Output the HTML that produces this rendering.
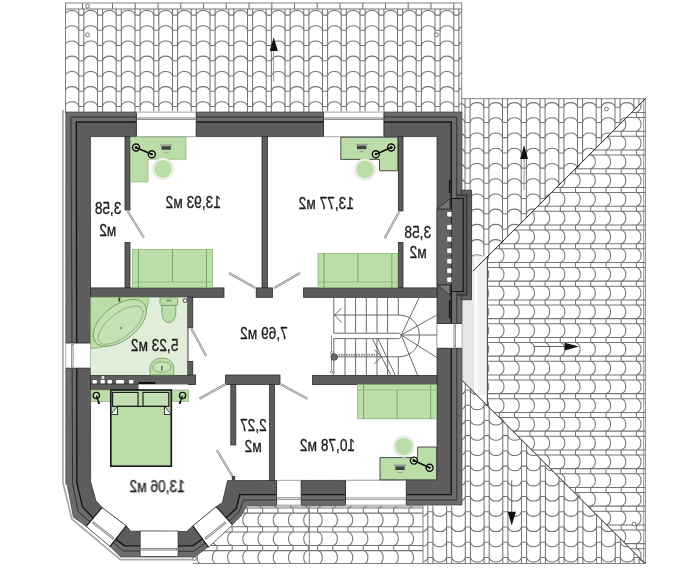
<!DOCTYPE html>
<html><head><meta charset="utf-8"><title>Floor plan</title>
<style>
html,body{margin:0;padding:0;background:#fff;}
body{width:700px;height:575px;overflow:hidden;font-family:"Liberation Sans",sans-serif;}
svg{display:block;}
.t{fill:none;stroke:#757575;stroke-width:1.05;}
.e{fill:none;stroke:#777;stroke-width:0.9;}
.w{fill:#5d5d5d;stroke:#2e2e2e;stroke-width:0.8;}
.g{fill:#bbdea8;stroke:#86ad74;stroke-width:0.7;}
.gd{fill:#bbdea8;stroke:#3a3a3a;stroke-width:0.9;}
.dr{stroke:#8a8a8a;stroke-width:2.2;fill:none;stroke-linecap:butt;}
.dr2{stroke:#f4f4f4;stroke-width:0.7;fill:none;}
.st{fill:none;stroke:#5a5a5a;stroke-width:0.9;}
.lb{font-family:"Liberation Sans",sans-serif;font-size:15.6px;fill:#1a1a1a;stroke:#1a1a1a;stroke-width:0.3;text-anchor:middle;}
</style></head><body>
<svg width="700" height="575" viewBox="0 0 700 575">
<rect width="700" height="575" fill="#fff"/>
<defs>
<clipPath id="cTop"><polygon points="65.5,9 461.8,9 461.8,112.5 65.5,112.5"/></clipPath>
<clipPath id="cRU"><polygon points="461.8,98.7 645.4,98.7 473.5,270.6 461.8,270.6"/></clipPath>
<clipPath id="cRR"><polygon points="645.4,98.7 645.2,563.5 487.4,405.7 487.4,256.7"/></clipPath>
<clipPath id="cRD"><polygon points="423,563.5 645.2,563.5 461.2,379.5 461.2,506 423,506"/></clipPath>
<clipPath id="cBL"><polygon points="246.7,506 309.3,506 309.3,563.6 193,563.6 193,557 208.5,546.7 232,525 241.5,515.4"/></clipPath>
<clipPath id="cBR"><polygon points="309.3,506 423,506 423,563.6 309.3,563.6"/></clipPath>
</defs>
<g id="roofs">
<g clip-path="url(#cTop)"><path class="t" d="M41.2 9V114M46.4 9V114M41.2 -15.3H46.4M46.4 -15.3C48 -21.5 58.4 -21.5 60 -15.3M41.2 -0.1H46.4M46.4 -0.1C48 -6.2 58.4 -6.2 60 -0.1M41.2 15.1H46.4M46.4 15.1C48 9 58.4 9 60 15.1M41.2 30.3H46.4M46.4 30.3C48 24.2 58.4 24.2 60 30.3M41.2 45.5H46.4M46.4 45.5C48 39.4 58.4 39.4 60 45.5M41.2 60.8H46.4M46.4 60.8C48 54.6 58.4 54.6 60 60.8M41.2 76H46.4M46.4 76C48 69.9 58.4 69.9 60 76M41.2 91.2H46.4M46.4 91.2C48 85.1 58.4 85.1 60 91.2M41.2 106.4H46.4M46.4 106.4C48 100.3 58.4 100.3 60 106.4M41.2 121.6H46.4M46.4 121.6C48 115.5 58.4 115.5 60 121.6M41.2 136.9H46.4M46.4 136.9C48 130.7 58.4 130.7 60 136.9M60 9V114M65.1 9V114M60 -15.3H65.1M65.1 -15.3C66.7 -21.5 77.1 -21.5 78.8 -15.3M60 -0.1H65.1M65.1 -0.1C66.7 -6.2 77.1 -6.2 78.8 -0.1M60 15.1H65.1M65.1 15.1C66.7 9 77.1 9 78.8 15.1M60 30.3H65.1M65.1 30.3C66.7 24.2 77.1 24.2 78.8 30.3M60 45.5H65.1M65.1 45.5C66.7 39.4 77.1 39.4 78.8 45.5M60 60.8H65.1M65.1 60.8C66.7 54.6 77.1 54.6 78.8 60.8M60 76H65.1M65.1 76C66.7 69.9 77.1 69.9 78.8 76M60 91.2H65.1M65.1 91.2C66.7 85.1 77.1 85.1 78.8 91.2M60 106.4H65.1M65.1 106.4C66.7 100.3 77.1 100.3 78.8 106.4M60 121.6H65.1M65.1 121.6C66.7 115.5 77.1 115.5 78.8 121.6M60 136.9H65.1M65.1 136.9C66.7 130.7 77.1 130.7 78.8 136.9M78.8 9V114M83.8 9V114M78.8 -15.3H83.8M83.8 -15.3C85.5 -21.5 95.9 -21.5 97.5 -15.3M78.8 -0.1H83.8M83.8 -0.1C85.5 -6.2 95.9 -6.2 97.5 -0.1M78.8 15.1H83.8M83.8 15.1C85.5 9 95.9 9 97.5 15.1M78.8 30.3H83.8M83.8 30.3C85.5 24.2 95.9 24.2 97.5 30.3M78.8 45.5H83.8M83.8 45.5C85.5 39.4 95.9 39.4 97.5 45.5M78.8 60.8H83.8M83.8 60.8C85.5 54.6 95.9 54.6 97.5 60.8M78.8 76H83.8M83.8 76C85.5 69.9 95.9 69.9 97.5 76M78.8 91.2H83.8M83.8 91.2C85.5 85.1 95.9 85.1 97.5 91.2M78.8 106.4H83.8M83.8 106.4C85.5 100.3 95.9 100.3 97.5 106.4M78.8 121.6H83.8M83.8 121.6C85.5 115.5 95.9 115.5 97.5 121.6M78.8 136.9H83.8M83.8 136.9C85.5 130.7 95.9 130.7 97.5 136.9M97.5 9V114M102.6 9V114M97.5 -15.3H102.6M102.6 -15.3C104.2 -21.5 114.6 -21.5 116.2 -15.3M97.5 -0.1H102.6M102.6 -0.1C104.2 -6.2 114.6 -6.2 116.2 -0.1M97.5 15.1H102.6M102.6 15.1C104.2 9 114.6 9 116.2 15.1M97.5 30.3H102.6M102.6 30.3C104.2 24.2 114.6 24.2 116.2 30.3M97.5 45.5H102.6M102.6 45.5C104.2 39.4 114.6 39.4 116.2 45.5M97.5 60.8H102.6M102.6 60.8C104.2 54.6 114.6 54.6 116.2 60.8M97.5 76H102.6M102.6 76C104.2 69.9 114.6 69.9 116.2 76M97.5 91.2H102.6M102.6 91.2C104.2 85.1 114.6 85.1 116.2 91.2M97.5 106.4H102.6M102.6 106.4C104.2 100.3 114.6 100.3 116.2 106.4M97.5 121.6H102.6M102.6 121.6C104.2 115.5 114.6 115.5 116.2 121.6M97.5 136.9H102.6M102.6 136.9C104.2 130.7 114.6 130.7 116.2 136.9M116.2 9V114M121.3 9V114M116.2 -15.3H121.3M121.3 -15.3C123 -21.5 133.4 -21.5 135 -15.3M116.2 -0.1H121.3M121.3 -0.1C123 -6.2 133.4 -6.2 135 -0.1M116.2 15.1H121.3M121.3 15.1C123 9 133.4 9 135 15.1M116.2 30.3H121.3M121.3 30.3C123 24.2 133.4 24.2 135 30.3M116.2 45.5H121.3M121.3 45.5C123 39.4 133.4 39.4 135 45.5M116.2 60.8H121.3M121.3 60.8C123 54.6 133.4 54.6 135 60.8M116.2 76H121.3M121.3 76C123 69.9 133.4 69.9 135 76M116.2 91.2H121.3M121.3 91.2C123 85.1 133.4 85.1 135 91.2M116.2 106.4H121.3M121.3 106.4C123 100.3 133.4 100.3 135 106.4M116.2 121.6H121.3M121.3 121.6C123 115.5 133.4 115.5 135 121.6M116.2 136.9H121.3M121.3 136.9C123 130.7 133.4 130.7 135 136.9M135 9V114M140.1 9V114M135 -15.3H140.1M140.1 -15.3C141.7 -21.5 152.1 -21.5 153.8 -15.3M135 -0.1H140.1M140.1 -0.1C141.7 -6.2 152.1 -6.2 153.8 -0.1M135 15.1H140.1M140.1 15.1C141.7 9 152.1 9 153.8 15.1M135 30.3H140.1M140.1 30.3C141.7 24.2 152.1 24.2 153.8 30.3M135 45.5H140.1M140.1 45.5C141.7 39.4 152.1 39.4 153.8 45.5M135 60.8H140.1M140.1 60.8C141.7 54.6 152.1 54.6 153.8 60.8M135 76H140.1M140.1 76C141.7 69.9 152.1 69.9 153.8 76M135 91.2H140.1M140.1 91.2C141.7 85.1 152.1 85.1 153.8 91.2M135 106.4H140.1M140.1 106.4C141.7 100.3 152.1 100.3 153.8 106.4M135 121.6H140.1M140.1 121.6C141.7 115.5 152.1 115.5 153.8 121.6M135 136.9H140.1M140.1 136.9C141.7 130.7 152.1 130.7 153.8 136.9M153.8 9V114M158.8 9V114M153.8 -15.3H158.8M158.8 -15.3C160.5 -21.5 170.9 -21.5 172.5 -15.3M153.8 -0.1H158.8M158.8 -0.1C160.5 -6.2 170.9 -6.2 172.5 -0.1M153.8 15.1H158.8M158.8 15.1C160.5 9 170.9 9 172.5 15.1M153.8 30.3H158.8M158.8 30.3C160.5 24.2 170.9 24.2 172.5 30.3M153.8 45.5H158.8M158.8 45.5C160.5 39.4 170.9 39.4 172.5 45.5M153.8 60.8H158.8M158.8 60.8C160.5 54.6 170.9 54.6 172.5 60.8M153.8 76H158.8M158.8 76C160.5 69.9 170.9 69.9 172.5 76M153.8 91.2H158.8M158.8 91.2C160.5 85.1 170.9 85.1 172.5 91.2M153.8 106.4H158.8M158.8 106.4C160.5 100.3 170.9 100.3 172.5 106.4M153.8 121.6H158.8M158.8 121.6C160.5 115.5 170.9 115.5 172.5 121.6M153.8 136.9H158.8M158.8 136.9C160.5 130.7 170.9 130.7 172.5 136.9M172.5 9V114M177.6 9V114M172.5 -15.3H177.6M177.6 -15.3C179.2 -21.5 189.6 -21.5 191.2 -15.3M172.5 -0.1H177.6M177.6 -0.1C179.2 -6.2 189.6 -6.2 191.2 -0.1M172.5 15.1H177.6M177.6 15.1C179.2 9 189.6 9 191.2 15.1M172.5 30.3H177.6M177.6 30.3C179.2 24.2 189.6 24.2 191.2 30.3M172.5 45.5H177.6M177.6 45.5C179.2 39.4 189.6 39.4 191.2 45.5M172.5 60.8H177.6M177.6 60.8C179.2 54.6 189.6 54.6 191.2 60.8M172.5 76H177.6M177.6 76C179.2 69.9 189.6 69.9 191.2 76M172.5 91.2H177.6M177.6 91.2C179.2 85.1 189.6 85.1 191.2 91.2M172.5 106.4H177.6M177.6 106.4C179.2 100.3 189.6 100.3 191.2 106.4M172.5 121.6H177.6M177.6 121.6C179.2 115.5 189.6 115.5 191.2 121.6M172.5 136.9H177.6M177.6 136.9C179.2 130.7 189.6 130.7 191.2 136.9M191.2 9V114M196.3 9V114M191.2 -15.3H196.3M196.3 -15.3C198 -21.5 208.4 -21.5 210 -15.3M191.2 -0.1H196.3M196.3 -0.1C198 -6.2 208.4 -6.2 210 -0.1M191.2 15.1H196.3M196.3 15.1C198 9 208.4 9 210 15.1M191.2 30.3H196.3M196.3 30.3C198 24.2 208.4 24.2 210 30.3M191.2 45.5H196.3M196.3 45.5C198 39.4 208.4 39.4 210 45.5M191.2 60.8H196.3M196.3 60.8C198 54.6 208.4 54.6 210 60.8M191.2 76H196.3M196.3 76C198 69.9 208.4 69.9 210 76M191.2 91.2H196.3M196.3 91.2C198 85.1 208.4 85.1 210 91.2M191.2 106.4H196.3M196.3 106.4C198 100.3 208.4 100.3 210 106.4M191.2 121.6H196.3M196.3 121.6C198 115.5 208.4 115.5 210 121.6M191.2 136.9H196.3M196.3 136.9C198 130.7 208.4 130.7 210 136.9M210 9V114M215.1 9V114M210 -15.3H215.1M215.1 -15.3C216.7 -21.5 227.1 -21.5 228.8 -15.3M210 -0.1H215.1M215.1 -0.1C216.7 -6.2 227.1 -6.2 228.8 -0.1M210 15.1H215.1M215.1 15.1C216.7 9 227.1 9 228.8 15.1M210 30.3H215.1M215.1 30.3C216.7 24.2 227.1 24.2 228.8 30.3M210 45.5H215.1M215.1 45.5C216.7 39.4 227.1 39.4 228.8 45.5M210 60.8H215.1M215.1 60.8C216.7 54.6 227.1 54.6 228.8 60.8M210 76H215.1M215.1 76C216.7 69.9 227.1 69.9 228.8 76M210 91.2H215.1M215.1 91.2C216.7 85.1 227.1 85.1 228.8 91.2M210 106.4H215.1M215.1 106.4C216.7 100.3 227.1 100.3 228.8 106.4M210 121.6H215.1M215.1 121.6C216.7 115.5 227.1 115.5 228.8 121.6M210 136.9H215.1M215.1 136.9C216.7 130.7 227.1 130.7 228.8 136.9M228.8 9V114M233.8 9V114M228.8 -15.3H233.8M233.8 -15.3C235.5 -21.5 245.9 -21.5 247.5 -15.3M228.8 -0.1H233.8M233.8 -0.1C235.5 -6.2 245.9 -6.2 247.5 -0.1M228.8 15.1H233.8M233.8 15.1C235.5 9 245.9 9 247.5 15.1M228.8 30.3H233.8M233.8 30.3C235.5 24.2 245.9 24.2 247.5 30.3M228.8 45.5H233.8M233.8 45.5C235.5 39.4 245.9 39.4 247.5 45.5M228.8 60.8H233.8M233.8 60.8C235.5 54.6 245.9 54.6 247.5 60.8M228.8 76H233.8M233.8 76C235.5 69.9 245.9 69.9 247.5 76M228.8 91.2H233.8M233.8 91.2C235.5 85.1 245.9 85.1 247.5 91.2M228.8 106.4H233.8M233.8 106.4C235.5 100.3 245.9 100.3 247.5 106.4M228.8 121.6H233.8M233.8 121.6C235.5 115.5 245.9 115.5 247.5 121.6M228.8 136.9H233.8M233.8 136.9C235.5 130.7 245.9 130.7 247.5 136.9M247.5 9V114M252.6 9V114M247.5 -15.3H252.6M252.6 -15.3C254.2 -21.5 264.6 -21.5 266.2 -15.3M247.5 -0.1H252.6M252.6 -0.1C254.2 -6.2 264.6 -6.2 266.2 -0.1M247.5 15.1H252.6M252.6 15.1C254.2 9 264.6 9 266.2 15.1M247.5 30.3H252.6M252.6 30.3C254.2 24.2 264.6 24.2 266.2 30.3M247.5 45.5H252.6M252.6 45.5C254.2 39.4 264.6 39.4 266.2 45.5M247.5 60.8H252.6M252.6 60.8C254.2 54.6 264.6 54.6 266.2 60.8M247.5 76H252.6M252.6 76C254.2 69.9 264.6 69.9 266.2 76M247.5 91.2H252.6M252.6 91.2C254.2 85.1 264.6 85.1 266.2 91.2M247.5 106.4H252.6M252.6 106.4C254.2 100.3 264.6 100.3 266.2 106.4M247.5 121.6H252.6M252.6 121.6C254.2 115.5 264.6 115.5 266.2 121.6M247.5 136.9H252.6M252.6 136.9C254.2 130.7 264.6 130.7 266.2 136.9M266.2 9V114M271.4 9V114M266.2 -15.3H271.4M271.4 -15.3C273 -21.5 283.4 -21.5 285 -15.3M266.2 -0.1H271.4M271.4 -0.1C273 -6.2 283.4 -6.2 285 -0.1M266.2 15.1H271.4M271.4 15.1C273 9 283.4 9 285 15.1M266.2 30.3H271.4M271.4 30.3C273 24.2 283.4 24.2 285 30.3M266.2 45.5H271.4M271.4 45.5C273 39.4 283.4 39.4 285 45.5M266.2 60.8H271.4M271.4 60.8C273 54.6 283.4 54.6 285 60.8M266.2 76H271.4M271.4 76C273 69.9 283.4 69.9 285 76M266.2 91.2H271.4M271.4 91.2C273 85.1 283.4 85.1 285 91.2M266.2 106.4H271.4M271.4 106.4C273 100.3 283.4 100.3 285 106.4M266.2 121.6H271.4M271.4 121.6C273 115.5 283.4 115.5 285 121.6M266.2 136.9H271.4M271.4 136.9C273 130.7 283.4 130.7 285 136.9M285 9V114M290.1 9V114M285 -15.3H290.1M290.1 -15.3C291.7 -21.5 302.1 -21.5 303.8 -15.3M285 -0.1H290.1M290.1 -0.1C291.7 -6.2 302.1 -6.2 303.8 -0.1M285 15.1H290.1M290.1 15.1C291.7 9 302.1 9 303.8 15.1M285 30.3H290.1M290.1 30.3C291.7 24.2 302.1 24.2 303.8 30.3M285 45.5H290.1M290.1 45.5C291.7 39.4 302.1 39.4 303.8 45.5M285 60.8H290.1M290.1 60.8C291.7 54.6 302.1 54.6 303.8 60.8M285 76H290.1M290.1 76C291.7 69.9 302.1 69.9 303.8 76M285 91.2H290.1M290.1 91.2C291.7 85.1 302.1 85.1 303.8 91.2M285 106.4H290.1M290.1 106.4C291.7 100.3 302.1 100.3 303.8 106.4M285 121.6H290.1M290.1 121.6C291.7 115.5 302.1 115.5 303.8 121.6M285 136.9H290.1M290.1 136.9C291.7 130.7 302.1 130.7 303.8 136.9M303.8 9V114M308.9 9V114M303.8 -15.3H308.9M308.9 -15.3C310.5 -21.5 320.9 -21.5 322.5 -15.3M303.8 -0.1H308.9M308.9 -0.1C310.5 -6.2 320.9 -6.2 322.5 -0.1M303.8 15.1H308.9M308.9 15.1C310.5 9 320.9 9 322.5 15.1M303.8 30.3H308.9M308.9 30.3C310.5 24.2 320.9 24.2 322.5 30.3M303.8 45.5H308.9M308.9 45.5C310.5 39.4 320.9 39.4 322.5 45.5M303.8 60.8H308.9M308.9 60.8C310.5 54.6 320.9 54.6 322.5 60.8M303.8 76H308.9M308.9 76C310.5 69.9 320.9 69.9 322.5 76M303.8 91.2H308.9M308.9 91.2C310.5 85.1 320.9 85.1 322.5 91.2M303.8 106.4H308.9M308.9 106.4C310.5 100.3 320.9 100.3 322.5 106.4M303.8 121.6H308.9M308.9 121.6C310.5 115.5 320.9 115.5 322.5 121.6M303.8 136.9H308.9M308.9 136.9C310.5 130.7 320.9 130.7 322.5 136.9M322.5 9V114M327.6 9V114M322.5 -15.3H327.6M327.6 -15.3C329.2 -21.5 339.6 -21.5 341.2 -15.3M322.5 -0.1H327.6M327.6 -0.1C329.2 -6.2 339.6 -6.2 341.2 -0.1M322.5 15.1H327.6M327.6 15.1C329.2 9 339.6 9 341.2 15.1M322.5 30.3H327.6M327.6 30.3C329.2 24.2 339.6 24.2 341.2 30.3M322.5 45.5H327.6M327.6 45.5C329.2 39.4 339.6 39.4 341.2 45.5M322.5 60.8H327.6M327.6 60.8C329.2 54.6 339.6 54.6 341.2 60.8M322.5 76H327.6M327.6 76C329.2 69.9 339.6 69.9 341.2 76M322.5 91.2H327.6M327.6 91.2C329.2 85.1 339.6 85.1 341.2 91.2M322.5 106.4H327.6M327.6 106.4C329.2 100.3 339.6 100.3 341.2 106.4M322.5 121.6H327.6M327.6 121.6C329.2 115.5 339.6 115.5 341.2 121.6M322.5 136.9H327.6M327.6 136.9C329.2 130.7 339.6 130.7 341.2 136.9M341.2 9V114M346.4 9V114M341.2 -15.3H346.4M346.4 -15.3C348 -21.5 358.4 -21.5 360 -15.3M341.2 -0.1H346.4M346.4 -0.1C348 -6.2 358.4 -6.2 360 -0.1M341.2 15.1H346.4M346.4 15.1C348 9 358.4 9 360 15.1M341.2 30.3H346.4M346.4 30.3C348 24.2 358.4 24.2 360 30.3M341.2 45.5H346.4M346.4 45.5C348 39.4 358.4 39.4 360 45.5M341.2 60.8H346.4M346.4 60.8C348 54.6 358.4 54.6 360 60.8M341.2 76H346.4M346.4 76C348 69.9 358.4 69.9 360 76M341.2 91.2H346.4M346.4 91.2C348 85.1 358.4 85.1 360 91.2M341.2 106.4H346.4M346.4 106.4C348 100.3 358.4 100.3 360 106.4M341.2 121.6H346.4M346.4 121.6C348 115.5 358.4 115.5 360 121.6M341.2 136.9H346.4M346.4 136.9C348 130.7 358.4 130.7 360 136.9M360 9V114M365.1 9V114M360 -15.3H365.1M365.1 -15.3C366.7 -21.5 377.1 -21.5 378.8 -15.3M360 -0.1H365.1M365.1 -0.1C366.7 -6.2 377.1 -6.2 378.8 -0.1M360 15.1H365.1M365.1 15.1C366.7 9 377.1 9 378.8 15.1M360 30.3H365.1M365.1 30.3C366.7 24.2 377.1 24.2 378.8 30.3M360 45.5H365.1M365.1 45.5C366.7 39.4 377.1 39.4 378.8 45.5M360 60.8H365.1M365.1 60.8C366.7 54.6 377.1 54.6 378.8 60.8M360 76H365.1M365.1 76C366.7 69.9 377.1 69.9 378.8 76M360 91.2H365.1M365.1 91.2C366.7 85.1 377.1 85.1 378.8 91.2M360 106.4H365.1M365.1 106.4C366.7 100.3 377.1 100.3 378.8 106.4M360 121.6H365.1M365.1 121.6C366.7 115.5 377.1 115.5 378.8 121.6M360 136.9H365.1M365.1 136.9C366.7 130.7 377.1 130.7 378.8 136.9M378.8 9V114M383.9 9V114M378.8 -15.3H383.9M383.9 -15.3C385.5 -21.5 395.9 -21.5 397.5 -15.3M378.8 -0.1H383.9M383.9 -0.1C385.5 -6.2 395.9 -6.2 397.5 -0.1M378.8 15.1H383.9M383.9 15.1C385.5 9 395.9 9 397.5 15.1M378.8 30.3H383.9M383.9 30.3C385.5 24.2 395.9 24.2 397.5 30.3M378.8 45.5H383.9M383.9 45.5C385.5 39.4 395.9 39.4 397.5 45.5M378.8 60.8H383.9M383.9 60.8C385.5 54.6 395.9 54.6 397.5 60.8M378.8 76H383.9M383.9 76C385.5 69.9 395.9 69.9 397.5 76M378.8 91.2H383.9M383.9 91.2C385.5 85.1 395.9 85.1 397.5 91.2M378.8 106.4H383.9M383.9 106.4C385.5 100.3 395.9 100.3 397.5 106.4M378.8 121.6H383.9M383.9 121.6C385.5 115.5 395.9 115.5 397.5 121.6M378.8 136.9H383.9M383.9 136.9C385.5 130.7 395.9 130.7 397.5 136.9M397.5 9V114M402.6 9V114M397.5 -15.3H402.6M402.6 -15.3C404.2 -21.5 414.6 -21.5 416.2 -15.3M397.5 -0.1H402.6M402.6 -0.1C404.2 -6.2 414.6 -6.2 416.2 -0.1M397.5 15.1H402.6M402.6 15.1C404.2 9 414.6 9 416.2 15.1M397.5 30.3H402.6M402.6 30.3C404.2 24.2 414.6 24.2 416.2 30.3M397.5 45.5H402.6M402.6 45.5C404.2 39.4 414.6 39.4 416.2 45.5M397.5 60.8H402.6M402.6 60.8C404.2 54.6 414.6 54.6 416.2 60.8M397.5 76H402.6M402.6 76C404.2 69.9 414.6 69.9 416.2 76M397.5 91.2H402.6M402.6 91.2C404.2 85.1 414.6 85.1 416.2 91.2M397.5 106.4H402.6M402.6 106.4C404.2 100.3 414.6 100.3 416.2 106.4M397.5 121.6H402.6M402.6 121.6C404.2 115.5 414.6 115.5 416.2 121.6M397.5 136.9H402.6M402.6 136.9C404.2 130.7 414.6 130.7 416.2 136.9M416.2 9V114M421.4 9V114M416.2 -15.3H421.4M421.4 -15.3C423 -21.5 433.4 -21.5 435 -15.3M416.2 -0.1H421.4M421.4 -0.1C423 -6.2 433.4 -6.2 435 -0.1M416.2 15.1H421.4M421.4 15.1C423 9 433.4 9 435 15.1M416.2 30.3H421.4M421.4 30.3C423 24.2 433.4 24.2 435 30.3M416.2 45.5H421.4M421.4 45.5C423 39.4 433.4 39.4 435 45.5M416.2 60.8H421.4M421.4 60.8C423 54.6 433.4 54.6 435 60.8M416.2 76H421.4M421.4 76C423 69.9 433.4 69.9 435 76M416.2 91.2H421.4M421.4 91.2C423 85.1 433.4 85.1 435 91.2M416.2 106.4H421.4M421.4 106.4C423 100.3 433.4 100.3 435 106.4M416.2 121.6H421.4M421.4 121.6C423 115.5 433.4 115.5 435 121.6M416.2 136.9H421.4M421.4 136.9C423 130.7 433.4 130.7 435 136.9M435 9V114M440.1 9V114M435 -15.3H440.1M440.1 -15.3C441.7 -21.5 452.1 -21.5 453.8 -15.3M435 -0.1H440.1M440.1 -0.1C441.7 -6.2 452.1 -6.2 453.8 -0.1M435 15.1H440.1M440.1 15.1C441.7 9 452.1 9 453.8 15.1M435 30.3H440.1M440.1 30.3C441.7 24.2 452.1 24.2 453.8 30.3M435 45.5H440.1M440.1 45.5C441.7 39.4 452.1 39.4 453.8 45.5M435 60.8H440.1M440.1 60.8C441.7 54.6 452.1 54.6 453.8 60.8M435 76H440.1M440.1 76C441.7 69.9 452.1 69.9 453.8 76M435 91.2H440.1M440.1 91.2C441.7 85.1 452.1 85.1 453.8 91.2M435 106.4H440.1M440.1 106.4C441.7 100.3 452.1 100.3 453.8 106.4M435 121.6H440.1M440.1 121.6C441.7 115.5 452.1 115.5 453.8 121.6M435 136.9H440.1M440.1 136.9C441.7 130.7 452.1 130.7 453.8 136.9M453.8 9V114M458.9 9V114M453.8 -15.3H458.9M458.9 -15.3C460.5 -21.5 470.9 -21.5 472.5 -15.3M453.8 -0.1H458.9M458.9 -0.1C460.5 -6.2 470.9 -6.2 472.5 -0.1M453.8 15.1H458.9M458.9 15.1C460.5 9 470.9 9 472.5 15.1M453.8 30.3H458.9M458.9 30.3C460.5 24.2 470.9 24.2 472.5 30.3M453.8 45.5H458.9M458.9 45.5C460.5 39.4 470.9 39.4 472.5 45.5M453.8 60.8H458.9M458.9 60.8C460.5 54.6 470.9 54.6 472.5 60.8M453.8 76H458.9M458.9 76C460.5 69.9 470.9 69.9 472.5 76M453.8 91.2H458.9M458.9 91.2C460.5 85.1 470.9 85.1 472.5 91.2M453.8 106.4H458.9M458.9 106.4C460.5 100.3 470.9 100.3 472.5 106.4M453.8 121.6H458.9M458.9 121.6C460.5 115.5 470.9 115.5 472.5 121.6M453.8 136.9H458.9M458.9 136.9C460.5 130.7 470.9 130.7 472.5 136.9M472.5 9V114M477.6 9V114M472.5 -15.3H477.6M477.6 -15.3C479.2 -21.5 489.6 -21.5 491.2 -15.3M472.5 -0.1H477.6M477.6 -0.1C479.2 -6.2 489.6 -6.2 491.2 -0.1M472.5 15.1H477.6M477.6 15.1C479.2 9 489.6 9 491.2 15.1M472.5 30.3H477.6M477.6 30.3C479.2 24.2 489.6 24.2 491.2 30.3M472.5 45.5H477.6M477.6 45.5C479.2 39.4 489.6 39.4 491.2 45.5M472.5 60.8H477.6M477.6 60.8C479.2 54.6 489.6 54.6 491.2 60.8M472.5 76H477.6M477.6 76C479.2 69.9 489.6 69.9 491.2 76M472.5 91.2H477.6M477.6 91.2C479.2 85.1 489.6 85.1 491.2 91.2M472.5 106.4H477.6M477.6 106.4C479.2 100.3 489.6 100.3 491.2 106.4M472.5 121.6H477.6M477.6 121.6C479.2 115.5 489.6 115.5 491.2 121.6M472.5 136.9H477.6M477.6 136.9C479.2 130.7 489.6 130.7 491.2 136.9M491.2 9V114M496.4 9V114M491.2 -15.3H496.4M496.4 -15.3C498 -21.5 508.4 -21.5 510 -15.3M491.2 -0.1H496.4M496.4 -0.1C498 -6.2 508.4 -6.2 510 -0.1M491.2 15.1H496.4M496.4 15.1C498 9 508.4 9 510 15.1M491.2 30.3H496.4M496.4 30.3C498 24.2 508.4 24.2 510 30.3M491.2 45.5H496.4M496.4 45.5C498 39.4 508.4 39.4 510 45.5M491.2 60.8H496.4M496.4 60.8C498 54.6 508.4 54.6 510 60.8M491.2 76H496.4M496.4 76C498 69.9 508.4 69.9 510 76M491.2 91.2H496.4M496.4 91.2C498 85.1 508.4 85.1 510 91.2M491.2 106.4H496.4M496.4 106.4C498 100.3 508.4 100.3 510 106.4M491.2 121.6H496.4M496.4 121.6C498 115.5 508.4 115.5 510 121.6M491.2 136.9H496.4M496.4 136.9C498 130.7 508.4 130.7 510 136.9"/></g>
<path class="t" d="M65.5 9H461.75M82.5 3V9M112.5 3V9M135.2 3V9M158 3V9M180.8 3V9M203.5 3V9M226.2 3V9M249 3V9M271.8 3V9M294.5 3V9M317.2 3V9M340 3V9M362.8 3V9M385.5 3V9M408.2 3V9M431 3V9M453.8 3V9"/>
<rect class="e" x="65.5" y="3" width="396.25" height="109.5"/>
<g clip-path="url(#cRU)"><path class="t" d="M427.5 96V275M432.6 96V275M427.5 76.8H432.6M432.6 76.8C434.2 70.6 444.6 70.6 446.2 76.8M427.5 92H432.6M432.6 92C434.2 85.9 444.6 85.9 446.2 92M427.5 107.2H432.6M432.6 107.2C434.2 101.1 444.6 101.1 446.2 107.2M427.5 122.4H432.6M432.6 122.4C434.2 116.3 444.6 116.3 446.2 122.4M427.5 137.6H432.6M432.6 137.6C434.2 131.5 444.6 131.5 446.2 137.6M427.5 152.9H432.6M432.6 152.9C434.2 146.7 444.6 146.7 446.2 152.9M427.5 168.1H432.6M432.6 168.1C434.2 162 444.6 162 446.2 168.1M427.5 183.3H432.6M432.6 183.3C434.2 177.2 444.6 177.2 446.2 183.3M427.5 198.5H432.6M432.6 198.5C434.2 192.4 444.6 192.4 446.2 198.5M427.5 213.7H432.6M432.6 213.7C434.2 207.6 444.6 207.6 446.2 213.7M427.5 229H432.6M432.6 229C434.2 222.8 444.6 222.8 446.2 229M427.5 244.2H432.6M432.6 244.2C434.2 238.1 444.6 238.1 446.2 244.2M427.5 259.4H432.6M432.6 259.4C434.2 253.3 444.6 253.3 446.2 259.4M427.5 274.6H432.6M432.6 274.6C434.2 268.5 444.6 268.5 446.2 274.6M427.5 289.8H432.6M432.6 289.8C434.2 283.7 444.6 283.7 446.2 289.8M427.5 305.1H432.6M432.6 305.1C434.2 298.9 444.6 298.9 446.2 305.1M446.2 96V275M451.4 96V275M446.2 76.8H451.4M451.4 76.8C453 70.6 463.4 70.6 465 76.8M446.2 92H451.4M451.4 92C453 85.9 463.4 85.9 465 92M446.2 107.2H451.4M451.4 107.2C453 101.1 463.4 101.1 465 107.2M446.2 122.4H451.4M451.4 122.4C453 116.3 463.4 116.3 465 122.4M446.2 137.6H451.4M451.4 137.6C453 131.5 463.4 131.5 465 137.6M446.2 152.9H451.4M451.4 152.9C453 146.7 463.4 146.7 465 152.9M446.2 168.1H451.4M451.4 168.1C453 162 463.4 162 465 168.1M446.2 183.3H451.4M451.4 183.3C453 177.2 463.4 177.2 465 183.3M446.2 198.5H451.4M451.4 198.5C453 192.4 463.4 192.4 465 198.5M446.2 213.7H451.4M451.4 213.7C453 207.6 463.4 207.6 465 213.7M446.2 229H451.4M451.4 229C453 222.8 463.4 222.8 465 229M446.2 244.2H451.4M451.4 244.2C453 238.1 463.4 238.1 465 244.2M446.2 259.4H451.4M451.4 259.4C453 253.3 463.4 253.3 465 259.4M446.2 274.6H451.4M451.4 274.6C453 268.5 463.4 268.5 465 274.6M446.2 289.8H451.4M451.4 289.8C453 283.7 463.4 283.7 465 289.8M446.2 305.1H451.4M451.4 305.1C453 298.9 463.4 298.9 465 305.1M465 96V275M470.1 96V275M465 76.8H470.1M470.1 76.8C471.7 70.6 482.1 70.6 483.8 76.8M465 92H470.1M470.1 92C471.7 85.9 482.1 85.9 483.8 92M465 107.2H470.1M470.1 107.2C471.7 101.1 482.1 101.1 483.8 107.2M465 122.4H470.1M470.1 122.4C471.7 116.3 482.1 116.3 483.8 122.4M465 137.6H470.1M470.1 137.6C471.7 131.5 482.1 131.5 483.8 137.6M465 152.9H470.1M470.1 152.9C471.7 146.7 482.1 146.7 483.8 152.9M465 168.1H470.1M470.1 168.1C471.7 162 482.1 162 483.8 168.1M465 183.3H470.1M470.1 183.3C471.7 177.2 482.1 177.2 483.8 183.3M465 198.5H470.1M470.1 198.5C471.7 192.4 482.1 192.4 483.8 198.5M465 213.7H470.1M470.1 213.7C471.7 207.6 482.1 207.6 483.8 213.7M465 229H470.1M470.1 229C471.7 222.8 482.1 222.8 483.8 229M465 244.2H470.1M470.1 244.2C471.7 238.1 482.1 238.1 483.8 244.2M465 259.4H470.1M470.1 259.4C471.7 253.3 482.1 253.3 483.8 259.4M465 274.6H470.1M470.1 274.6C471.7 268.5 482.1 268.5 483.8 274.6M465 289.8H470.1M470.1 289.8C471.7 283.7 482.1 283.7 483.8 289.8M465 305.1H470.1M470.1 305.1C471.7 298.9 482.1 298.9 483.8 305.1M483.8 96V275M488.9 96V275M483.8 76.8H488.9M488.9 76.8C490.5 70.6 500.9 70.6 502.5 76.8M483.8 92H488.9M488.9 92C490.5 85.9 500.9 85.9 502.5 92M483.8 107.2H488.9M488.9 107.2C490.5 101.1 500.9 101.1 502.5 107.2M483.8 122.4H488.9M488.9 122.4C490.5 116.3 500.9 116.3 502.5 122.4M483.8 137.6H488.9M488.9 137.6C490.5 131.5 500.9 131.5 502.5 137.6M483.8 152.9H488.9M488.9 152.9C490.5 146.7 500.9 146.7 502.5 152.9M483.8 168.1H488.9M488.9 168.1C490.5 162 500.9 162 502.5 168.1M483.8 183.3H488.9M488.9 183.3C490.5 177.2 500.9 177.2 502.5 183.3M483.8 198.5H488.9M488.9 198.5C490.5 192.4 500.9 192.4 502.5 198.5M483.8 213.7H488.9M488.9 213.7C490.5 207.6 500.9 207.6 502.5 213.7M483.8 229H488.9M488.9 229C490.5 222.8 500.9 222.8 502.5 229M483.8 244.2H488.9M488.9 244.2C490.5 238.1 500.9 238.1 502.5 244.2M483.8 259.4H488.9M488.9 259.4C490.5 253.3 500.9 253.3 502.5 259.4M483.8 274.6H488.9M488.9 274.6C490.5 268.5 500.9 268.5 502.5 274.6M483.8 289.8H488.9M488.9 289.8C490.5 283.7 500.9 283.7 502.5 289.8M483.8 305.1H488.9M488.9 305.1C490.5 298.9 500.9 298.9 502.5 305.1M502.5 96V275M507.6 96V275M502.5 76.8H507.6M507.6 76.8C509.2 70.6 519.6 70.6 521.2 76.8M502.5 92H507.6M507.6 92C509.2 85.9 519.6 85.9 521.2 92M502.5 107.2H507.6M507.6 107.2C509.2 101.1 519.6 101.1 521.2 107.2M502.5 122.4H507.6M507.6 122.4C509.2 116.3 519.6 116.3 521.2 122.4M502.5 137.6H507.6M507.6 137.6C509.2 131.5 519.6 131.5 521.2 137.6M502.5 152.9H507.6M507.6 152.9C509.2 146.7 519.6 146.7 521.2 152.9M502.5 168.1H507.6M507.6 168.1C509.2 162 519.6 162 521.2 168.1M502.5 183.3H507.6M507.6 183.3C509.2 177.2 519.6 177.2 521.2 183.3M502.5 198.5H507.6M507.6 198.5C509.2 192.4 519.6 192.4 521.2 198.5M502.5 213.7H507.6M507.6 213.7C509.2 207.6 519.6 207.6 521.2 213.7M502.5 229H507.6M507.6 229C509.2 222.8 519.6 222.8 521.2 229M502.5 244.2H507.6M507.6 244.2C509.2 238.1 519.6 238.1 521.2 244.2M502.5 259.4H507.6M507.6 259.4C509.2 253.3 519.6 253.3 521.2 259.4M502.5 274.6H507.6M507.6 274.6C509.2 268.5 519.6 268.5 521.2 274.6M502.5 289.8H507.6M507.6 289.8C509.2 283.7 519.6 283.7 521.2 289.8M502.5 305.1H507.6M507.6 305.1C509.2 298.9 519.6 298.9 521.2 305.1M521.2 96V275M526.4 96V275M521.2 76.8H526.4M526.4 76.8C528 70.6 538.4 70.6 540 76.8M521.2 92H526.4M526.4 92C528 85.9 538.4 85.9 540 92M521.2 107.2H526.4M526.4 107.2C528 101.1 538.4 101.1 540 107.2M521.2 122.4H526.4M526.4 122.4C528 116.3 538.4 116.3 540 122.4M521.2 137.6H526.4M526.4 137.6C528 131.5 538.4 131.5 540 137.6M521.2 152.9H526.4M526.4 152.9C528 146.7 538.4 146.7 540 152.9M521.2 168.1H526.4M526.4 168.1C528 162 538.4 162 540 168.1M521.2 183.3H526.4M526.4 183.3C528 177.2 538.4 177.2 540 183.3M521.2 198.5H526.4M526.4 198.5C528 192.4 538.4 192.4 540 198.5M521.2 213.7H526.4M526.4 213.7C528 207.6 538.4 207.6 540 213.7M521.2 229H526.4M526.4 229C528 222.8 538.4 222.8 540 229M521.2 244.2H526.4M526.4 244.2C528 238.1 538.4 238.1 540 244.2M521.2 259.4H526.4M526.4 259.4C528 253.3 538.4 253.3 540 259.4M521.2 274.6H526.4M526.4 274.6C528 268.5 538.4 268.5 540 274.6M521.2 289.8H526.4M526.4 289.8C528 283.7 538.4 283.7 540 289.8M521.2 305.1H526.4M526.4 305.1C528 298.9 538.4 298.9 540 305.1M540 96V275M545.1 96V275M540 76.8H545.1M545.1 76.8C546.7 70.6 557.1 70.6 558.8 76.8M540 92H545.1M545.1 92C546.7 85.9 557.1 85.9 558.8 92M540 107.2H545.1M545.1 107.2C546.7 101.1 557.1 101.1 558.8 107.2M540 122.4H545.1M545.1 122.4C546.7 116.3 557.1 116.3 558.8 122.4M540 137.6H545.1M545.1 137.6C546.7 131.5 557.1 131.5 558.8 137.6M540 152.9H545.1M545.1 152.9C546.7 146.7 557.1 146.7 558.8 152.9M540 168.1H545.1M545.1 168.1C546.7 162 557.1 162 558.8 168.1M540 183.3H545.1M545.1 183.3C546.7 177.2 557.1 177.2 558.8 183.3M540 198.5H545.1M545.1 198.5C546.7 192.4 557.1 192.4 558.8 198.5M540 213.7H545.1M545.1 213.7C546.7 207.6 557.1 207.6 558.8 213.7M540 229H545.1M545.1 229C546.7 222.8 557.1 222.8 558.8 229M540 244.2H545.1M545.1 244.2C546.7 238.1 557.1 238.1 558.8 244.2M540 259.4H545.1M545.1 259.4C546.7 253.3 557.1 253.3 558.8 259.4M540 274.6H545.1M545.1 274.6C546.7 268.5 557.1 268.5 558.8 274.6M540 289.8H545.1M545.1 289.8C546.7 283.7 557.1 283.7 558.8 289.8M540 305.1H545.1M545.1 305.1C546.7 298.9 557.1 298.9 558.8 305.1M558.8 96V275M563.9 96V275M558.8 76.8H563.9M563.9 76.8C565.5 70.6 575.9 70.6 577.5 76.8M558.8 92H563.9M563.9 92C565.5 85.9 575.9 85.9 577.5 92M558.8 107.2H563.9M563.9 107.2C565.5 101.1 575.9 101.1 577.5 107.2M558.8 122.4H563.9M563.9 122.4C565.5 116.3 575.9 116.3 577.5 122.4M558.8 137.6H563.9M563.9 137.6C565.5 131.5 575.9 131.5 577.5 137.6M558.8 152.9H563.9M563.9 152.9C565.5 146.7 575.9 146.7 577.5 152.9M558.8 168.1H563.9M563.9 168.1C565.5 162 575.9 162 577.5 168.1M558.8 183.3H563.9M563.9 183.3C565.5 177.2 575.9 177.2 577.5 183.3M558.8 198.5H563.9M563.9 198.5C565.5 192.4 575.9 192.4 577.5 198.5M558.8 213.7H563.9M563.9 213.7C565.5 207.6 575.9 207.6 577.5 213.7M558.8 229H563.9M563.9 229C565.5 222.8 575.9 222.8 577.5 229M558.8 244.2H563.9M563.9 244.2C565.5 238.1 575.9 238.1 577.5 244.2M558.8 259.4H563.9M563.9 259.4C565.5 253.3 575.9 253.3 577.5 259.4M558.8 274.6H563.9M563.9 274.6C565.5 268.5 575.9 268.5 577.5 274.6M558.8 289.8H563.9M563.9 289.8C565.5 283.7 575.9 283.7 577.5 289.8M558.8 305.1H563.9M563.9 305.1C565.5 298.9 575.9 298.9 577.5 305.1M577.5 96V275M582.6 96V275M577.5 76.8H582.6M582.6 76.8C584.2 70.6 594.6 70.6 596.2 76.8M577.5 92H582.6M582.6 92C584.2 85.9 594.6 85.9 596.2 92M577.5 107.2H582.6M582.6 107.2C584.2 101.1 594.6 101.1 596.2 107.2M577.5 122.4H582.6M582.6 122.4C584.2 116.3 594.6 116.3 596.2 122.4M577.5 137.6H582.6M582.6 137.6C584.2 131.5 594.6 131.5 596.2 137.6M577.5 152.9H582.6M582.6 152.9C584.2 146.7 594.6 146.7 596.2 152.9M577.5 168.1H582.6M582.6 168.1C584.2 162 594.6 162 596.2 168.1M577.5 183.3H582.6M582.6 183.3C584.2 177.2 594.6 177.2 596.2 183.3M577.5 198.5H582.6M582.6 198.5C584.2 192.4 594.6 192.4 596.2 198.5M577.5 213.7H582.6M582.6 213.7C584.2 207.6 594.6 207.6 596.2 213.7M577.5 229H582.6M582.6 229C584.2 222.8 594.6 222.8 596.2 229M577.5 244.2H582.6M582.6 244.2C584.2 238.1 594.6 238.1 596.2 244.2M577.5 259.4H582.6M582.6 259.4C584.2 253.3 594.6 253.3 596.2 259.4M577.5 274.6H582.6M582.6 274.6C584.2 268.5 594.6 268.5 596.2 274.6M577.5 289.8H582.6M582.6 289.8C584.2 283.7 594.6 283.7 596.2 289.8M577.5 305.1H582.6M582.6 305.1C584.2 298.9 594.6 298.9 596.2 305.1M596.2 96V275M601.4 96V275M596.2 76.8H601.4M601.4 76.8C603 70.6 613.4 70.6 615 76.8M596.2 92H601.4M601.4 92C603 85.9 613.4 85.9 615 92M596.2 107.2H601.4M601.4 107.2C603 101.1 613.4 101.1 615 107.2M596.2 122.4H601.4M601.4 122.4C603 116.3 613.4 116.3 615 122.4M596.2 137.6H601.4M601.4 137.6C603 131.5 613.4 131.5 615 137.6M596.2 152.9H601.4M601.4 152.9C603 146.7 613.4 146.7 615 152.9M596.2 168.1H601.4M601.4 168.1C603 162 613.4 162 615 168.1M596.2 183.3H601.4M601.4 183.3C603 177.2 613.4 177.2 615 183.3M596.2 198.5H601.4M601.4 198.5C603 192.4 613.4 192.4 615 198.5M596.2 213.7H601.4M601.4 213.7C603 207.6 613.4 207.6 615 213.7M596.2 229H601.4M601.4 229C603 222.8 613.4 222.8 615 229M596.2 244.2H601.4M601.4 244.2C603 238.1 613.4 238.1 615 244.2M596.2 259.4H601.4M601.4 259.4C603 253.3 613.4 253.3 615 259.4M596.2 274.6H601.4M601.4 274.6C603 268.5 613.4 268.5 615 274.6M596.2 289.8H601.4M601.4 289.8C603 283.7 613.4 283.7 615 289.8M596.2 305.1H601.4M601.4 305.1C603 298.9 613.4 298.9 615 305.1M615 96V275M620.1 96V275M615 76.8H620.1M620.1 76.8C621.7 70.6 632.1 70.6 633.8 76.8M615 92H620.1M620.1 92C621.7 85.9 632.1 85.9 633.8 92M615 107.2H620.1M620.1 107.2C621.7 101.1 632.1 101.1 633.8 107.2M615 122.4H620.1M620.1 122.4C621.7 116.3 632.1 116.3 633.8 122.4M615 137.6H620.1M620.1 137.6C621.7 131.5 632.1 131.5 633.8 137.6M615 152.9H620.1M620.1 152.9C621.7 146.7 632.1 146.7 633.8 152.9M615 168.1H620.1M620.1 168.1C621.7 162 632.1 162 633.8 168.1M615 183.3H620.1M620.1 183.3C621.7 177.2 632.1 177.2 633.8 183.3M615 198.5H620.1M620.1 198.5C621.7 192.4 632.1 192.4 633.8 198.5M615 213.7H620.1M620.1 213.7C621.7 207.6 632.1 207.6 633.8 213.7M615 229H620.1M620.1 229C621.7 222.8 632.1 222.8 633.8 229M615 244.2H620.1M620.1 244.2C621.7 238.1 632.1 238.1 633.8 244.2M615 259.4H620.1M620.1 259.4C621.7 253.3 632.1 253.3 633.8 259.4M615 274.6H620.1M620.1 274.6C621.7 268.5 632.1 268.5 633.8 274.6M615 289.8H620.1M620.1 289.8C621.7 283.7 632.1 283.7 633.8 289.8M615 305.1H620.1M620.1 305.1C621.7 298.9 632.1 298.9 633.8 305.1M633.8 96V275M638.9 96V275M633.8 76.8H638.9M638.9 76.8C640.5 70.6 650.9 70.6 652.5 76.8M633.8 92H638.9M638.9 92C640.5 85.9 650.9 85.9 652.5 92M633.8 107.2H638.9M638.9 107.2C640.5 101.1 650.9 101.1 652.5 107.2M633.8 122.4H638.9M638.9 122.4C640.5 116.3 650.9 116.3 652.5 122.4M633.8 137.6H638.9M638.9 137.6C640.5 131.5 650.9 131.5 652.5 137.6M633.8 152.9H638.9M638.9 152.9C640.5 146.7 650.9 146.7 652.5 152.9M633.8 168.1H638.9M638.9 168.1C640.5 162 650.9 162 652.5 168.1M633.8 183.3H638.9M638.9 183.3C640.5 177.2 650.9 177.2 652.5 183.3M633.8 198.5H638.9M638.9 198.5C640.5 192.4 650.9 192.4 652.5 198.5M633.8 213.7H638.9M638.9 213.7C640.5 207.6 650.9 207.6 652.5 213.7M633.8 229H638.9M638.9 229C640.5 222.8 650.9 222.8 652.5 229M633.8 244.2H638.9M638.9 244.2C640.5 238.1 650.9 238.1 652.5 244.2M633.8 259.4H638.9M638.9 259.4C640.5 253.3 650.9 253.3 652.5 259.4M633.8 274.6H638.9M638.9 274.6C640.5 268.5 650.9 268.5 652.5 274.6M633.8 289.8H638.9M638.9 289.8C640.5 283.7 650.9 283.7 652.5 289.8M633.8 305.1H638.9M638.9 305.1C640.5 298.9 650.9 298.9 652.5 305.1M652.5 96V275M657.6 96V275M652.5 76.8H657.6M657.6 76.8C659.2 70.6 669.6 70.6 671.2 76.8M652.5 92H657.6M657.6 92C659.2 85.9 669.6 85.9 671.2 92M652.5 107.2H657.6M657.6 107.2C659.2 101.1 669.6 101.1 671.2 107.2M652.5 122.4H657.6M657.6 122.4C659.2 116.3 669.6 116.3 671.2 122.4M652.5 137.6H657.6M657.6 137.6C659.2 131.5 669.6 131.5 671.2 137.6M652.5 152.9H657.6M657.6 152.9C659.2 146.7 669.6 146.7 671.2 152.9M652.5 168.1H657.6M657.6 168.1C659.2 162 669.6 162 671.2 168.1M652.5 183.3H657.6M657.6 183.3C659.2 177.2 669.6 177.2 671.2 183.3M652.5 198.5H657.6M657.6 198.5C659.2 192.4 669.6 192.4 671.2 198.5M652.5 213.7H657.6M657.6 213.7C659.2 207.6 669.6 207.6 671.2 213.7M652.5 229H657.6M657.6 229C659.2 222.8 669.6 222.8 671.2 229M652.5 244.2H657.6M657.6 244.2C659.2 238.1 669.6 238.1 671.2 244.2M652.5 259.4H657.6M657.6 259.4C659.2 253.3 669.6 253.3 671.2 259.4M652.5 274.6H657.6M657.6 274.6C659.2 268.5 669.6 268.5 671.2 274.6M652.5 289.8H657.6M657.6 289.8C659.2 283.7 669.6 283.7 671.2 289.8M652.5 305.1H657.6M657.6 305.1C659.2 298.9 669.6 298.9 671.2 305.1M671.2 96V275M676.4 96V275M671.2 76.8H676.4M676.4 76.8C678 70.6 688.4 70.6 690 76.8M671.2 92H676.4M676.4 92C678 85.9 688.4 85.9 690 92M671.2 107.2H676.4M676.4 107.2C678 101.1 688.4 101.1 690 107.2M671.2 122.4H676.4M676.4 122.4C678 116.3 688.4 116.3 690 122.4M671.2 137.6H676.4M676.4 137.6C678 131.5 688.4 131.5 690 137.6M671.2 152.9H676.4M676.4 152.9C678 146.7 688.4 146.7 690 152.9M671.2 168.1H676.4M676.4 168.1C678 162 688.4 162 690 168.1M671.2 183.3H676.4M676.4 183.3C678 177.2 688.4 177.2 690 183.3M671.2 198.5H676.4M676.4 198.5C678 192.4 688.4 192.4 690 198.5M671.2 213.7H676.4M676.4 213.7C678 207.6 688.4 207.6 690 213.7M671.2 229H676.4M676.4 229C678 222.8 688.4 222.8 690 229M671.2 244.2H676.4M676.4 244.2C678 238.1 688.4 238.1 690 244.2M671.2 259.4H676.4M676.4 259.4C678 253.3 688.4 253.3 690 259.4M671.2 274.6H676.4M676.4 274.6C678 268.5 688.4 268.5 690 274.6M671.2 289.8H676.4M676.4 289.8C678 283.7 688.4 283.7 690 289.8M671.2 305.1H676.4M676.4 305.1C678 298.9 688.4 298.9 690 305.1"/></g>
<g clip-path="url(#cRR)"><path class="t" d="M484 74.9H648M484 80H648M453.8 74.9V80M453.8 80C459.9 81.6 459.9 92 453.8 93.7M469 74.9V80M469 80C475.1 81.6 475.1 92 469 93.7M484.2 74.9V80M484.2 80C490.3 81.6 490.3 92 484.2 93.7M499.4 74.9V80M499.4 80C505.5 81.6 505.5 92 499.4 93.7M514.6 74.9V80M514.6 80C520.8 81.6 520.8 92 514.6 93.7M529.9 74.9V80M529.9 80C536 81.6 536 92 529.9 93.7M545.1 74.9V80M545.1 80C551.2 81.6 551.2 92 545.1 93.7M560.3 74.9V80M560.3 80C566.4 81.6 566.4 92 560.3 93.7M575.5 74.9V80M575.5 80C581.6 81.6 581.6 92 575.5 93.7M590.7 74.9V80M590.7 80C596.9 81.6 596.9 92 590.7 93.7M606 74.9V80M606 80C612.1 81.6 612.1 92 606 93.7M621.2 74.9V80M621.2 80C627.3 81.6 627.3 92 621.2 93.7M636.4 74.9V80M636.4 80C642.5 81.6 642.5 92 636.4 93.7M651.6 74.9V80M651.6 80C657.7 81.6 657.7 92 651.6 93.7M666.8 74.9V80M666.8 80C673 81.6 673 92 666.8 93.7M484 93.7H648M484 98.8H648M453.8 93.7V98.8M453.8 98.8C459.9 100.4 459.9 110.8 453.8 112.4M469 93.7V98.8M469 98.8C475.1 100.4 475.1 110.8 469 112.4M484.2 93.7V98.8M484.2 98.8C490.3 100.4 490.3 110.8 484.2 112.4M499.4 93.7V98.8M499.4 98.8C505.5 100.4 505.5 110.8 499.4 112.4M514.6 93.7V98.8M514.6 98.8C520.8 100.4 520.8 110.8 514.6 112.4M529.9 93.7V98.8M529.9 98.8C536 100.4 536 110.8 529.9 112.4M545.1 93.7V98.8M545.1 98.8C551.2 100.4 551.2 110.8 545.1 112.4M560.3 93.7V98.8M560.3 98.8C566.4 100.4 566.4 110.8 560.3 112.4M575.5 93.7V98.8M575.5 98.8C581.6 100.4 581.6 110.8 575.5 112.4M590.7 93.7V98.8M590.7 98.8C596.9 100.4 596.9 110.8 590.7 112.4M606 93.7V98.8M606 98.8C612.1 100.4 612.1 110.8 606 112.4M621.2 93.7V98.8M621.2 98.8C627.3 100.4 627.3 110.8 621.2 112.4M636.4 93.7V98.8M636.4 98.8C642.5 100.4 642.5 110.8 636.4 112.4M651.6 93.7V98.8M651.6 98.8C657.7 100.4 657.7 110.8 651.6 112.4M666.8 93.7V98.8M666.8 98.8C673 100.4 673 110.8 666.8 112.4M484 112.4H648M484 117.5H648M453.8 112.4V117.5M453.8 117.5C459.9 119.1 459.9 129.5 453.8 131.2M469 112.4V117.5M469 117.5C475.1 119.1 475.1 129.5 469 131.2M484.2 112.4V117.5M484.2 117.5C490.3 119.1 490.3 129.5 484.2 131.2M499.4 112.4V117.5M499.4 117.5C505.5 119.1 505.5 129.5 499.4 131.2M514.6 112.4V117.5M514.6 117.5C520.8 119.1 520.8 129.5 514.6 131.2M529.9 112.4V117.5M529.9 117.5C536 119.1 536 129.5 529.9 131.2M545.1 112.4V117.5M545.1 117.5C551.2 119.1 551.2 129.5 545.1 131.2M560.3 112.4V117.5M560.3 117.5C566.4 119.1 566.4 129.5 560.3 131.2M575.5 112.4V117.5M575.5 117.5C581.6 119.1 581.6 129.5 575.5 131.2M590.7 112.4V117.5M590.7 117.5C596.9 119.1 596.9 129.5 590.7 131.2M606 112.4V117.5M606 117.5C612.1 119.1 612.1 129.5 606 131.2M621.2 112.4V117.5M621.2 117.5C627.3 119.1 627.3 129.5 621.2 131.2M636.4 112.4V117.5M636.4 117.5C642.5 119.1 642.5 129.5 636.4 131.2M651.6 112.4V117.5M651.6 117.5C657.7 119.1 657.7 129.5 651.6 131.2M666.8 112.4V117.5M666.8 117.5C673 119.1 673 129.5 666.8 131.2M484 131.2H648M484 136.2H648M453.8 131.2V136.2M453.8 136.2C459.9 137.9 459.9 148.3 453.8 149.9M469 131.2V136.2M469 136.2C475.1 137.9 475.1 148.3 469 149.9M484.2 131.2V136.2M484.2 136.2C490.3 137.9 490.3 148.3 484.2 149.9M499.4 131.2V136.2M499.4 136.2C505.5 137.9 505.5 148.3 499.4 149.9M514.6 131.2V136.2M514.6 136.2C520.8 137.9 520.8 148.3 514.6 149.9M529.9 131.2V136.2M529.9 136.2C536 137.9 536 148.3 529.9 149.9M545.1 131.2V136.2M545.1 136.2C551.2 137.9 551.2 148.3 545.1 149.9M560.3 131.2V136.2M560.3 136.2C566.4 137.9 566.4 148.3 560.3 149.9M575.5 131.2V136.2M575.5 136.2C581.6 137.9 581.6 148.3 575.5 149.9M590.7 131.2V136.2M590.7 136.2C596.9 137.9 596.9 148.3 590.7 149.9M606 131.2V136.2M606 136.2C612.1 137.9 612.1 148.3 606 149.9M621.2 131.2V136.2M621.2 136.2C627.3 137.9 627.3 148.3 621.2 149.9M636.4 131.2V136.2M636.4 136.2C642.5 137.9 642.5 148.3 636.4 149.9M651.6 131.2V136.2M651.6 136.2C657.7 137.9 657.7 148.3 651.6 149.9M666.8 131.2V136.2M666.8 136.2C673 137.9 673 148.3 666.8 149.9M484 149.9H648M484 155H648M453.8 149.9V155M453.8 155C459.9 156.6 459.9 167 453.8 168.7M469 149.9V155M469 155C475.1 156.6 475.1 167 469 168.7M484.2 149.9V155M484.2 155C490.3 156.6 490.3 167 484.2 168.7M499.4 149.9V155M499.4 155C505.5 156.6 505.5 167 499.4 168.7M514.6 149.9V155M514.6 155C520.8 156.6 520.8 167 514.6 168.7M529.9 149.9V155M529.9 155C536 156.6 536 167 529.9 168.7M545.1 149.9V155M545.1 155C551.2 156.6 551.2 167 545.1 168.7M560.3 149.9V155M560.3 155C566.4 156.6 566.4 167 560.3 168.7M575.5 149.9V155M575.5 155C581.6 156.6 581.6 167 575.5 168.7M590.7 149.9V155M590.7 155C596.9 156.6 596.9 167 590.7 168.7M606 149.9V155M606 155C612.1 156.6 612.1 167 606 168.7M621.2 149.9V155M621.2 155C627.3 156.6 627.3 167 621.2 168.7M636.4 149.9V155M636.4 155C642.5 156.6 642.5 167 636.4 168.7M651.6 149.9V155M651.6 155C657.7 156.6 657.7 167 651.6 168.7M666.8 149.9V155M666.8 155C673 156.6 673 167 666.8 168.7M484 168.7H648M484 173.8H648M453.8 168.7V173.8M453.8 173.8C459.9 175.4 459.9 185.8 453.8 187.4M469 168.7V173.8M469 173.8C475.1 175.4 475.1 185.8 469 187.4M484.2 168.7V173.8M484.2 173.8C490.3 175.4 490.3 185.8 484.2 187.4M499.4 168.7V173.8M499.4 173.8C505.5 175.4 505.5 185.8 499.4 187.4M514.6 168.7V173.8M514.6 173.8C520.8 175.4 520.8 185.8 514.6 187.4M529.9 168.7V173.8M529.9 173.8C536 175.4 536 185.8 529.9 187.4M545.1 168.7V173.8M545.1 173.8C551.2 175.4 551.2 185.8 545.1 187.4M560.3 168.7V173.8M560.3 173.8C566.4 175.4 566.4 185.8 560.3 187.4M575.5 168.7V173.8M575.5 173.8C581.6 175.4 581.6 185.8 575.5 187.4M590.7 168.7V173.8M590.7 173.8C596.9 175.4 596.9 185.8 590.7 187.4M606 168.7V173.8M606 173.8C612.1 175.4 612.1 185.8 606 187.4M621.2 168.7V173.8M621.2 173.8C627.3 175.4 627.3 185.8 621.2 187.4M636.4 168.7V173.8M636.4 173.8C642.5 175.4 642.5 185.8 636.4 187.4M651.6 168.7V173.8M651.6 173.8C657.7 175.4 657.7 185.8 651.6 187.4M666.8 168.7V173.8M666.8 173.8C673 175.4 673 185.8 666.8 187.4M484 187.4H648M484 192.5H648M453.8 187.4V192.5M453.8 192.5C459.9 194.1 459.9 204.5 453.8 206.2M469 187.4V192.5M469 192.5C475.1 194.1 475.1 204.5 469 206.2M484.2 187.4V192.5M484.2 192.5C490.3 194.1 490.3 204.5 484.2 206.2M499.4 187.4V192.5M499.4 192.5C505.5 194.1 505.5 204.5 499.4 206.2M514.6 187.4V192.5M514.6 192.5C520.8 194.1 520.8 204.5 514.6 206.2M529.9 187.4V192.5M529.9 192.5C536 194.1 536 204.5 529.9 206.2M545.1 187.4V192.5M545.1 192.5C551.2 194.1 551.2 204.5 545.1 206.2M560.3 187.4V192.5M560.3 192.5C566.4 194.1 566.4 204.5 560.3 206.2M575.5 187.4V192.5M575.5 192.5C581.6 194.1 581.6 204.5 575.5 206.2M590.7 187.4V192.5M590.7 192.5C596.9 194.1 596.9 204.5 590.7 206.2M606 187.4V192.5M606 192.5C612.1 194.1 612.1 204.5 606 206.2M621.2 187.4V192.5M621.2 192.5C627.3 194.1 627.3 204.5 621.2 206.2M636.4 187.4V192.5M636.4 192.5C642.5 194.1 642.5 204.5 636.4 206.2M651.6 187.4V192.5M651.6 192.5C657.7 194.1 657.7 204.5 651.6 206.2M666.8 187.4V192.5M666.8 192.5C673 194.1 673 204.5 666.8 206.2M484 206.2H648M484 211.2H648M453.8 206.2V211.2M453.8 211.2C459.9 212.9 459.9 223.3 453.8 224.9M469 206.2V211.2M469 211.2C475.1 212.9 475.1 223.3 469 224.9M484.2 206.2V211.2M484.2 211.2C490.3 212.9 490.3 223.3 484.2 224.9M499.4 206.2V211.2M499.4 211.2C505.5 212.9 505.5 223.3 499.4 224.9M514.6 206.2V211.2M514.6 211.2C520.8 212.9 520.8 223.3 514.6 224.9M529.9 206.2V211.2M529.9 211.2C536 212.9 536 223.3 529.9 224.9M545.1 206.2V211.2M545.1 211.2C551.2 212.9 551.2 223.3 545.1 224.9M560.3 206.2V211.2M560.3 211.2C566.4 212.9 566.4 223.3 560.3 224.9M575.5 206.2V211.2M575.5 211.2C581.6 212.9 581.6 223.3 575.5 224.9M590.7 206.2V211.2M590.7 211.2C596.9 212.9 596.9 223.3 590.7 224.9M606 206.2V211.2M606 211.2C612.1 212.9 612.1 223.3 606 224.9M621.2 206.2V211.2M621.2 211.2C627.3 212.9 627.3 223.3 621.2 224.9M636.4 206.2V211.2M636.4 211.2C642.5 212.9 642.5 223.3 636.4 224.9M651.6 206.2V211.2M651.6 211.2C657.7 212.9 657.7 223.3 651.6 224.9M666.8 206.2V211.2M666.8 211.2C673 212.9 673 223.3 666.8 224.9M484 224.9H648M484 230H648M453.8 224.9V230M453.8 230C459.9 231.6 459.9 242 453.8 243.7M469 224.9V230M469 230C475.1 231.6 475.1 242 469 243.7M484.2 224.9V230M484.2 230C490.3 231.6 490.3 242 484.2 243.7M499.4 224.9V230M499.4 230C505.5 231.6 505.5 242 499.4 243.7M514.6 224.9V230M514.6 230C520.8 231.6 520.8 242 514.6 243.7M529.9 224.9V230M529.9 230C536 231.6 536 242 529.9 243.7M545.1 224.9V230M545.1 230C551.2 231.6 551.2 242 545.1 243.7M560.3 224.9V230M560.3 230C566.4 231.6 566.4 242 560.3 243.7M575.5 224.9V230M575.5 230C581.6 231.6 581.6 242 575.5 243.7M590.7 224.9V230M590.7 230C596.9 231.6 596.9 242 590.7 243.7M606 224.9V230M606 230C612.1 231.6 612.1 242 606 243.7M621.2 224.9V230M621.2 230C627.3 231.6 627.3 242 621.2 243.7M636.4 224.9V230M636.4 230C642.5 231.6 642.5 242 636.4 243.7M651.6 224.9V230M651.6 230C657.7 231.6 657.7 242 651.6 243.7M666.8 224.9V230M666.8 230C673 231.6 673 242 666.8 243.7M484 243.7H648M484 248.8H648M453.8 243.7V248.8M453.8 248.8C459.9 250.4 459.9 260.8 453.8 262.4M469 243.7V248.8M469 248.8C475.1 250.4 475.1 260.8 469 262.4M484.2 243.7V248.8M484.2 248.8C490.3 250.4 490.3 260.8 484.2 262.4M499.4 243.7V248.8M499.4 248.8C505.5 250.4 505.5 260.8 499.4 262.4M514.6 243.7V248.8M514.6 248.8C520.8 250.4 520.8 260.8 514.6 262.4M529.9 243.7V248.8M529.9 248.8C536 250.4 536 260.8 529.9 262.4M545.1 243.7V248.8M545.1 248.8C551.2 250.4 551.2 260.8 545.1 262.4M560.3 243.7V248.8M560.3 248.8C566.4 250.4 566.4 260.8 560.3 262.4M575.5 243.7V248.8M575.5 248.8C581.6 250.4 581.6 260.8 575.5 262.4M590.7 243.7V248.8M590.7 248.8C596.9 250.4 596.9 260.8 590.7 262.4M606 243.7V248.8M606 248.8C612.1 250.4 612.1 260.8 606 262.4M621.2 243.7V248.8M621.2 248.8C627.3 250.4 627.3 260.8 621.2 262.4M636.4 243.7V248.8M636.4 248.8C642.5 250.4 642.5 260.8 636.4 262.4M651.6 243.7V248.8M651.6 248.8C657.7 250.4 657.7 260.8 651.6 262.4M666.8 243.7V248.8M666.8 248.8C673 250.4 673 260.8 666.8 262.4M484 262.4H648M484 267.5H648M453.8 262.4V267.5M453.8 267.5C459.9 269.1 459.9 279.5 453.8 281.1M469 262.4V267.5M469 267.5C475.1 269.1 475.1 279.5 469 281.1M484.2 262.4V267.5M484.2 267.5C490.3 269.1 490.3 279.5 484.2 281.1M499.4 262.4V267.5M499.4 267.5C505.5 269.1 505.5 279.5 499.4 281.1M514.6 262.4V267.5M514.6 267.5C520.8 269.1 520.8 279.5 514.6 281.1M529.9 262.4V267.5M529.9 267.5C536 269.1 536 279.5 529.9 281.1M545.1 262.4V267.5M545.1 267.5C551.2 269.1 551.2 279.5 545.1 281.1M560.3 262.4V267.5M560.3 267.5C566.4 269.1 566.4 279.5 560.3 281.1M575.5 262.4V267.5M575.5 267.5C581.6 269.1 581.6 279.5 575.5 281.1M590.7 262.4V267.5M590.7 267.5C596.9 269.1 596.9 279.5 590.7 281.1M606 262.4V267.5M606 267.5C612.1 269.1 612.1 279.5 606 281.1M621.2 262.4V267.5M621.2 267.5C627.3 269.1 627.3 279.5 621.2 281.1M636.4 262.4V267.5M636.4 267.5C642.5 269.1 642.5 279.5 636.4 281.1M651.6 262.4V267.5M651.6 267.5C657.7 269.1 657.7 279.5 651.6 281.1M666.8 262.4V267.5M666.8 267.5C673 269.1 673 279.5 666.8 281.1M484 281.1H648M484 286.2H648M453.8 281.1V286.2M453.8 286.2C459.9 287.9 459.9 298.3 453.8 299.9M469 281.1V286.2M469 286.2C475.1 287.9 475.1 298.3 469 299.9M484.2 281.1V286.2M484.2 286.2C490.3 287.9 490.3 298.3 484.2 299.9M499.4 281.1V286.2M499.4 286.2C505.5 287.9 505.5 298.3 499.4 299.9M514.6 281.1V286.2M514.6 286.2C520.8 287.9 520.8 298.3 514.6 299.9M529.9 281.1V286.2M529.9 286.2C536 287.9 536 298.3 529.9 299.9M545.1 281.1V286.2M545.1 286.2C551.2 287.9 551.2 298.3 545.1 299.9M560.3 281.1V286.2M560.3 286.2C566.4 287.9 566.4 298.3 560.3 299.9M575.5 281.1V286.2M575.5 286.2C581.6 287.9 581.6 298.3 575.5 299.9M590.7 281.1V286.2M590.7 286.2C596.9 287.9 596.9 298.3 590.7 299.9M606 281.1V286.2M606 286.2C612.1 287.9 612.1 298.3 606 299.9M621.2 281.1V286.2M621.2 286.2C627.3 287.9 627.3 298.3 621.2 299.9M636.4 281.1V286.2M636.4 286.2C642.5 287.9 642.5 298.3 636.4 299.9M651.6 281.1V286.2M651.6 286.2C657.7 287.9 657.7 298.3 651.6 299.9M666.8 281.1V286.2M666.8 286.2C673 287.9 673 298.3 666.8 299.9M484 299.9H648M484 305H648M453.8 299.9V305M453.8 305C459.9 306.6 459.9 317 453.8 318.6M469 299.9V305M469 305C475.1 306.6 475.1 317 469 318.6M484.2 299.9V305M484.2 305C490.3 306.6 490.3 317 484.2 318.6M499.4 299.9V305M499.4 305C505.5 306.6 505.5 317 499.4 318.6M514.6 299.9V305M514.6 305C520.8 306.6 520.8 317 514.6 318.6M529.9 299.9V305M529.9 305C536 306.6 536 317 529.9 318.6M545.1 299.9V305M545.1 305C551.2 306.6 551.2 317 545.1 318.6M560.3 299.9V305M560.3 305C566.4 306.6 566.4 317 560.3 318.6M575.5 299.9V305M575.5 305C581.6 306.6 581.6 317 575.5 318.6M590.7 299.9V305M590.7 305C596.9 306.6 596.9 317 590.7 318.6M606 299.9V305M606 305C612.1 306.6 612.1 317 606 318.6M621.2 299.9V305M621.2 305C627.3 306.6 627.3 317 621.2 318.6M636.4 299.9V305M636.4 305C642.5 306.6 642.5 317 636.4 318.6M651.6 299.9V305M651.6 305C657.7 306.6 657.7 317 651.6 318.6M666.8 299.9V305M666.8 305C673 306.6 673 317 666.8 318.6M484 318.6H648M484 323.8H648M453.8 318.6V323.8M453.8 323.8C459.9 325.4 459.9 335.8 453.8 337.4M469 318.6V323.8M469 323.8C475.1 325.4 475.1 335.8 469 337.4M484.2 318.6V323.8M484.2 323.8C490.3 325.4 490.3 335.8 484.2 337.4M499.4 318.6V323.8M499.4 323.8C505.5 325.4 505.5 335.8 499.4 337.4M514.6 318.6V323.8M514.6 323.8C520.8 325.4 520.8 335.8 514.6 337.4M529.9 318.6V323.8M529.9 323.8C536 325.4 536 335.8 529.9 337.4M545.1 318.6V323.8M545.1 323.8C551.2 325.4 551.2 335.8 545.1 337.4M560.3 318.6V323.8M560.3 323.8C566.4 325.4 566.4 335.8 560.3 337.4M575.5 318.6V323.8M575.5 323.8C581.6 325.4 581.6 335.8 575.5 337.4M590.7 318.6V323.8M590.7 323.8C596.9 325.4 596.9 335.8 590.7 337.4M606 318.6V323.8M606 323.8C612.1 325.4 612.1 335.8 606 337.4M621.2 318.6V323.8M621.2 323.8C627.3 325.4 627.3 335.8 621.2 337.4M636.4 318.6V323.8M636.4 323.8C642.5 325.4 642.5 335.8 636.4 337.4M651.6 318.6V323.8M651.6 323.8C657.7 325.4 657.7 335.8 651.6 337.4M666.8 318.6V323.8M666.8 323.8C673 325.4 673 335.8 666.8 337.4M484 337.4H648M484 342.5H648M453.8 337.4V342.5M453.8 342.5C459.9 344.1 459.9 354.5 453.8 356.1M469 337.4V342.5M469 342.5C475.1 344.1 475.1 354.5 469 356.1M484.2 337.4V342.5M484.2 342.5C490.3 344.1 490.3 354.5 484.2 356.1M499.4 337.4V342.5M499.4 342.5C505.5 344.1 505.5 354.5 499.4 356.1M514.6 337.4V342.5M514.6 342.5C520.8 344.1 520.8 354.5 514.6 356.1M529.9 337.4V342.5M529.9 342.5C536 344.1 536 354.5 529.9 356.1M545.1 337.4V342.5M545.1 342.5C551.2 344.1 551.2 354.5 545.1 356.1M560.3 337.4V342.5M560.3 342.5C566.4 344.1 566.4 354.5 560.3 356.1M575.5 337.4V342.5M575.5 342.5C581.6 344.1 581.6 354.5 575.5 356.1M590.7 337.4V342.5M590.7 342.5C596.9 344.1 596.9 354.5 590.7 356.1M606 337.4V342.5M606 342.5C612.1 344.1 612.1 354.5 606 356.1M621.2 337.4V342.5M621.2 342.5C627.3 344.1 627.3 354.5 621.2 356.1M636.4 337.4V342.5M636.4 342.5C642.5 344.1 642.5 354.5 636.4 356.1M651.6 337.4V342.5M651.6 342.5C657.7 344.1 657.7 354.5 651.6 356.1M666.8 337.4V342.5M666.8 342.5C673 344.1 673 354.5 666.8 356.1M484 356.1H648M484 361.2H648M453.8 356.1V361.2M453.8 361.2C459.9 362.9 459.9 373.3 453.8 374.9M469 356.1V361.2M469 361.2C475.1 362.9 475.1 373.3 469 374.9M484.2 356.1V361.2M484.2 361.2C490.3 362.9 490.3 373.3 484.2 374.9M499.4 356.1V361.2M499.4 361.2C505.5 362.9 505.5 373.3 499.4 374.9M514.6 356.1V361.2M514.6 361.2C520.8 362.9 520.8 373.3 514.6 374.9M529.9 356.1V361.2M529.9 361.2C536 362.9 536 373.3 529.9 374.9M545.1 356.1V361.2M545.1 361.2C551.2 362.9 551.2 373.3 545.1 374.9M560.3 356.1V361.2M560.3 361.2C566.4 362.9 566.4 373.3 560.3 374.9M575.5 356.1V361.2M575.5 361.2C581.6 362.9 581.6 373.3 575.5 374.9M590.7 356.1V361.2M590.7 361.2C596.9 362.9 596.9 373.3 590.7 374.9M606 356.1V361.2M606 361.2C612.1 362.9 612.1 373.3 606 374.9M621.2 356.1V361.2M621.2 361.2C627.3 362.9 627.3 373.3 621.2 374.9M636.4 356.1V361.2M636.4 361.2C642.5 362.9 642.5 373.3 636.4 374.9M651.6 356.1V361.2M651.6 361.2C657.7 362.9 657.7 373.3 651.6 374.9M666.8 356.1V361.2M666.8 361.2C673 362.9 673 373.3 666.8 374.9M484 374.9H648M484 380H648M453.8 374.9V380M453.8 380C459.9 381.6 459.9 392 453.8 393.6M469 374.9V380M469 380C475.1 381.6 475.1 392 469 393.6M484.2 374.9V380M484.2 380C490.3 381.6 490.3 392 484.2 393.6M499.4 374.9V380M499.4 380C505.5 381.6 505.5 392 499.4 393.6M514.6 374.9V380M514.6 380C520.8 381.6 520.8 392 514.6 393.6M529.9 374.9V380M529.9 380C536 381.6 536 392 529.9 393.6M545.1 374.9V380M545.1 380C551.2 381.6 551.2 392 545.1 393.6M560.3 374.9V380M560.3 380C566.4 381.6 566.4 392 560.3 393.6M575.5 374.9V380M575.5 380C581.6 381.6 581.6 392 575.5 393.6M590.7 374.9V380M590.7 380C596.9 381.6 596.9 392 590.7 393.6M606 374.9V380M606 380C612.1 381.6 612.1 392 606 393.6M621.2 374.9V380M621.2 380C627.3 381.6 627.3 392 621.2 393.6M636.4 374.9V380M636.4 380C642.5 381.6 642.5 392 636.4 393.6M651.6 374.9V380M651.6 380C657.7 381.6 657.7 392 651.6 393.6M666.8 374.9V380M666.8 380C673 381.6 673 392 666.8 393.6M484 393.6H648M484 398.8H648M453.8 393.6V398.8M453.8 398.8C459.9 400.4 459.9 410.8 453.8 412.4M469 393.6V398.8M469 398.8C475.1 400.4 475.1 410.8 469 412.4M484.2 393.6V398.8M484.2 398.8C490.3 400.4 490.3 410.8 484.2 412.4M499.4 393.6V398.8M499.4 398.8C505.5 400.4 505.5 410.8 499.4 412.4M514.6 393.6V398.8M514.6 398.8C520.8 400.4 520.8 410.8 514.6 412.4M529.9 393.6V398.8M529.9 398.8C536 400.4 536 410.8 529.9 412.4M545.1 393.6V398.8M545.1 398.8C551.2 400.4 551.2 410.8 545.1 412.4M560.3 393.6V398.8M560.3 398.8C566.4 400.4 566.4 410.8 560.3 412.4M575.5 393.6V398.8M575.5 398.8C581.6 400.4 581.6 410.8 575.5 412.4M590.7 393.6V398.8M590.7 398.8C596.9 400.4 596.9 410.8 590.7 412.4M606 393.6V398.8M606 398.8C612.1 400.4 612.1 410.8 606 412.4M621.2 393.6V398.8M621.2 398.8C627.3 400.4 627.3 410.8 621.2 412.4M636.4 393.6V398.8M636.4 398.8C642.5 400.4 642.5 410.8 636.4 412.4M651.6 393.6V398.8M651.6 398.8C657.7 400.4 657.7 410.8 651.6 412.4M666.8 393.6V398.8M666.8 398.8C673 400.4 673 410.8 666.8 412.4M484 412.4H648M484 417.5H648M453.8 412.4V417.5M453.8 417.5C459.9 419.1 459.9 429.5 453.8 431.1M469 412.4V417.5M469 417.5C475.1 419.1 475.1 429.5 469 431.1M484.2 412.4V417.5M484.2 417.5C490.3 419.1 490.3 429.5 484.2 431.1M499.4 412.4V417.5M499.4 417.5C505.5 419.1 505.5 429.5 499.4 431.1M514.6 412.4V417.5M514.6 417.5C520.8 419.1 520.8 429.5 514.6 431.1M529.9 412.4V417.5M529.9 417.5C536 419.1 536 429.5 529.9 431.1M545.1 412.4V417.5M545.1 417.5C551.2 419.1 551.2 429.5 545.1 431.1M560.3 412.4V417.5M560.3 417.5C566.4 419.1 566.4 429.5 560.3 431.1M575.5 412.4V417.5M575.5 417.5C581.6 419.1 581.6 429.5 575.5 431.1M590.7 412.4V417.5M590.7 417.5C596.9 419.1 596.9 429.5 590.7 431.1M606 412.4V417.5M606 417.5C612.1 419.1 612.1 429.5 606 431.1M621.2 412.4V417.5M621.2 417.5C627.3 419.1 627.3 429.5 621.2 431.1M636.4 412.4V417.5M636.4 417.5C642.5 419.1 642.5 429.5 636.4 431.1M651.6 412.4V417.5M651.6 417.5C657.7 419.1 657.7 429.5 651.6 431.1M666.8 412.4V417.5M666.8 417.5C673 419.1 673 429.5 666.8 431.1M484 431.1H648M484 436.2H648M453.8 431.1V436.2M453.8 436.2C459.9 437.9 459.9 448.3 453.8 449.9M469 431.1V436.2M469 436.2C475.1 437.9 475.1 448.3 469 449.9M484.2 431.1V436.2M484.2 436.2C490.3 437.9 490.3 448.3 484.2 449.9M499.4 431.1V436.2M499.4 436.2C505.5 437.9 505.5 448.3 499.4 449.9M514.6 431.1V436.2M514.6 436.2C520.8 437.9 520.8 448.3 514.6 449.9M529.9 431.1V436.2M529.9 436.2C536 437.9 536 448.3 529.9 449.9M545.1 431.1V436.2M545.1 436.2C551.2 437.9 551.2 448.3 545.1 449.9M560.3 431.1V436.2M560.3 436.2C566.4 437.9 566.4 448.3 560.3 449.9M575.5 431.1V436.2M575.5 436.2C581.6 437.9 581.6 448.3 575.5 449.9M590.7 431.1V436.2M590.7 436.2C596.9 437.9 596.9 448.3 590.7 449.9M606 431.1V436.2M606 436.2C612.1 437.9 612.1 448.3 606 449.9M621.2 431.1V436.2M621.2 436.2C627.3 437.9 627.3 448.3 621.2 449.9M636.4 431.1V436.2M636.4 436.2C642.5 437.9 642.5 448.3 636.4 449.9M651.6 431.1V436.2M651.6 436.2C657.7 437.9 657.7 448.3 651.6 449.9M666.8 431.1V436.2M666.8 436.2C673 437.9 673 448.3 666.8 449.9M484 449.9H648M484 455H648M453.8 449.9V455M453.8 455C459.9 456.6 459.9 467 453.8 468.6M469 449.9V455M469 455C475.1 456.6 475.1 467 469 468.6M484.2 449.9V455M484.2 455C490.3 456.6 490.3 467 484.2 468.6M499.4 449.9V455M499.4 455C505.5 456.6 505.5 467 499.4 468.6M514.6 449.9V455M514.6 455C520.8 456.6 520.8 467 514.6 468.6M529.9 449.9V455M529.9 455C536 456.6 536 467 529.9 468.6M545.1 449.9V455M545.1 455C551.2 456.6 551.2 467 545.1 468.6M560.3 449.9V455M560.3 455C566.4 456.6 566.4 467 560.3 468.6M575.5 449.9V455M575.5 455C581.6 456.6 581.6 467 575.5 468.6M590.7 449.9V455M590.7 455C596.9 456.6 596.9 467 590.7 468.6M606 449.9V455M606 455C612.1 456.6 612.1 467 606 468.6M621.2 449.9V455M621.2 455C627.3 456.6 627.3 467 621.2 468.6M636.4 449.9V455M636.4 455C642.5 456.6 642.5 467 636.4 468.6M651.6 449.9V455M651.6 455C657.7 456.6 657.7 467 651.6 468.6M666.8 449.9V455M666.8 455C673 456.6 673 467 666.8 468.6M484 468.6H648M484 473.8H648M453.8 468.6V473.8M453.8 473.8C459.9 475.4 459.9 485.8 453.8 487.4M469 468.6V473.8M469 473.8C475.1 475.4 475.1 485.8 469 487.4M484.2 468.6V473.8M484.2 473.8C490.3 475.4 490.3 485.8 484.2 487.4M499.4 468.6V473.8M499.4 473.8C505.5 475.4 505.5 485.8 499.4 487.4M514.6 468.6V473.8M514.6 473.8C520.8 475.4 520.8 485.8 514.6 487.4M529.9 468.6V473.8M529.9 473.8C536 475.4 536 485.8 529.9 487.4M545.1 468.6V473.8M545.1 473.8C551.2 475.4 551.2 485.8 545.1 487.4M560.3 468.6V473.8M560.3 473.8C566.4 475.4 566.4 485.8 560.3 487.4M575.5 468.6V473.8M575.5 473.8C581.6 475.4 581.6 485.8 575.5 487.4M590.7 468.6V473.8M590.7 473.8C596.9 475.4 596.9 485.8 590.7 487.4M606 468.6V473.8M606 473.8C612.1 475.4 612.1 485.8 606 487.4M621.2 468.6V473.8M621.2 473.8C627.3 475.4 627.3 485.8 621.2 487.4M636.4 468.6V473.8M636.4 473.8C642.5 475.4 642.5 485.8 636.4 487.4M651.6 468.6V473.8M651.6 473.8C657.7 475.4 657.7 485.8 651.6 487.4M666.8 468.6V473.8M666.8 473.8C673 475.4 673 485.8 666.8 487.4M484 487.4H648M484 492.5H648M453.8 487.4V492.5M453.8 492.5C459.9 494.1 459.9 504.5 453.8 506.1M469 487.4V492.5M469 492.5C475.1 494.1 475.1 504.5 469 506.1M484.2 487.4V492.5M484.2 492.5C490.3 494.1 490.3 504.5 484.2 506.1M499.4 487.4V492.5M499.4 492.5C505.5 494.1 505.5 504.5 499.4 506.1M514.6 487.4V492.5M514.6 492.5C520.8 494.1 520.8 504.5 514.6 506.1M529.9 487.4V492.5M529.9 492.5C536 494.1 536 504.5 529.9 506.1M545.1 487.4V492.5M545.1 492.5C551.2 494.1 551.2 504.5 545.1 506.1M560.3 487.4V492.5M560.3 492.5C566.4 494.1 566.4 504.5 560.3 506.1M575.5 487.4V492.5M575.5 492.5C581.6 494.1 581.6 504.5 575.5 506.1M590.7 487.4V492.5M590.7 492.5C596.9 494.1 596.9 504.5 590.7 506.1M606 487.4V492.5M606 492.5C612.1 494.1 612.1 504.5 606 506.1M621.2 487.4V492.5M621.2 492.5C627.3 494.1 627.3 504.5 621.2 506.1M636.4 487.4V492.5M636.4 492.5C642.5 494.1 642.5 504.5 636.4 506.1M651.6 487.4V492.5M651.6 492.5C657.7 494.1 657.7 504.5 651.6 506.1M666.8 487.4V492.5M666.8 492.5C673 494.1 673 504.5 666.8 506.1M484 506.1H648M484 511.2H648M453.8 506.1V511.2M453.8 511.2C459.9 512.9 459.9 523.3 453.8 524.9M469 506.1V511.2M469 511.2C475.1 512.9 475.1 523.3 469 524.9M484.2 506.1V511.2M484.2 511.2C490.3 512.9 490.3 523.3 484.2 524.9M499.4 506.1V511.2M499.4 511.2C505.5 512.9 505.5 523.3 499.4 524.9M514.6 506.1V511.2M514.6 511.2C520.8 512.9 520.8 523.3 514.6 524.9M529.9 506.1V511.2M529.9 511.2C536 512.9 536 523.3 529.9 524.9M545.1 506.1V511.2M545.1 511.2C551.2 512.9 551.2 523.3 545.1 524.9M560.3 506.1V511.2M560.3 511.2C566.4 512.9 566.4 523.3 560.3 524.9M575.5 506.1V511.2M575.5 511.2C581.6 512.9 581.6 523.3 575.5 524.9M590.7 506.1V511.2M590.7 511.2C596.9 512.9 596.9 523.3 590.7 524.9M606 506.1V511.2M606 511.2C612.1 512.9 612.1 523.3 606 524.9M621.2 506.1V511.2M621.2 511.2C627.3 512.9 627.3 523.3 621.2 524.9M636.4 506.1V511.2M636.4 511.2C642.5 512.9 642.5 523.3 636.4 524.9M651.6 506.1V511.2M651.6 511.2C657.7 512.9 657.7 523.3 651.6 524.9M666.8 506.1V511.2M666.8 511.2C673 512.9 673 523.3 666.8 524.9M484 524.9H648M484 530H648M453.8 524.9V530M453.8 530C459.9 531.6 459.9 542 453.8 543.6M469 524.9V530M469 530C475.1 531.6 475.1 542 469 543.6M484.2 524.9V530M484.2 530C490.3 531.6 490.3 542 484.2 543.6M499.4 524.9V530M499.4 530C505.5 531.6 505.5 542 499.4 543.6M514.6 524.9V530M514.6 530C520.8 531.6 520.8 542 514.6 543.6M529.9 524.9V530M529.9 530C536 531.6 536 542 529.9 543.6M545.1 524.9V530M545.1 530C551.2 531.6 551.2 542 545.1 543.6M560.3 524.9V530M560.3 530C566.4 531.6 566.4 542 560.3 543.6M575.5 524.9V530M575.5 530C581.6 531.6 581.6 542 575.5 543.6M590.7 524.9V530M590.7 530C596.9 531.6 596.9 542 590.7 543.6M606 524.9V530M606 530C612.1 531.6 612.1 542 606 543.6M621.2 524.9V530M621.2 530C627.3 531.6 627.3 542 621.2 543.6M636.4 524.9V530M636.4 530C642.5 531.6 642.5 542 636.4 543.6M651.6 524.9V530M651.6 530C657.7 531.6 657.7 542 651.6 543.6M666.8 524.9V530M666.8 530C673 531.6 673 542 666.8 543.6M484 543.6H648M484 548.8H648M453.8 543.6V548.8M453.8 548.8C459.9 550.4 459.9 560.8 453.8 562.4M469 543.6V548.8M469 548.8C475.1 550.4 475.1 560.8 469 562.4M484.2 543.6V548.8M484.2 548.8C490.3 550.4 490.3 560.8 484.2 562.4M499.4 543.6V548.8M499.4 548.8C505.5 550.4 505.5 560.8 499.4 562.4M514.6 543.6V548.8M514.6 548.8C520.8 550.4 520.8 560.8 514.6 562.4M529.9 543.6V548.8M529.9 548.8C536 550.4 536 560.8 529.9 562.4M545.1 543.6V548.8M545.1 548.8C551.2 550.4 551.2 560.8 545.1 562.4M560.3 543.6V548.8M560.3 548.8C566.4 550.4 566.4 560.8 560.3 562.4M575.5 543.6V548.8M575.5 548.8C581.6 550.4 581.6 560.8 575.5 562.4M590.7 543.6V548.8M590.7 548.8C596.9 550.4 596.9 560.8 590.7 562.4M606 543.6V548.8M606 548.8C612.1 550.4 612.1 560.8 606 562.4M621.2 543.6V548.8M621.2 548.8C627.3 550.4 627.3 560.8 621.2 562.4M636.4 543.6V548.8M636.4 548.8C642.5 550.4 642.5 560.8 636.4 562.4M651.6 543.6V548.8M651.6 548.8C657.7 550.4 657.7 560.8 651.6 562.4M666.8 543.6V548.8M666.8 548.8C673 550.4 673 560.8 666.8 562.4M484 562.4H648M484 567.5H648M453.8 562.4V567.5M453.8 567.5C459.9 569.1 459.9 579.5 453.8 581.1M469 562.4V567.5M469 567.5C475.1 569.1 475.1 579.5 469 581.1M484.2 562.4V567.5M484.2 567.5C490.3 569.1 490.3 579.5 484.2 581.1M499.4 562.4V567.5M499.4 567.5C505.5 569.1 505.5 579.5 499.4 581.1M514.6 562.4V567.5M514.6 567.5C520.8 569.1 520.8 579.5 514.6 581.1M529.9 562.4V567.5M529.9 567.5C536 569.1 536 579.5 529.9 581.1M545.1 562.4V567.5M545.1 567.5C551.2 569.1 551.2 579.5 545.1 581.1M560.3 562.4V567.5M560.3 567.5C566.4 569.1 566.4 579.5 560.3 581.1M575.5 562.4V567.5M575.5 567.5C581.6 569.1 581.6 579.5 575.5 581.1M590.7 562.4V567.5M590.7 567.5C596.9 569.1 596.9 579.5 590.7 581.1M606 562.4V567.5M606 567.5C612.1 569.1 612.1 579.5 606 581.1M621.2 562.4V567.5M621.2 567.5C627.3 569.1 627.3 579.5 621.2 581.1M636.4 562.4V567.5M636.4 567.5C642.5 569.1 642.5 579.5 636.4 581.1M651.6 562.4V567.5M651.6 567.5C657.7 569.1 657.7 579.5 651.6 581.1M666.8 562.4V567.5M666.8 567.5C673 569.1 673 579.5 666.8 581.1M484 581.1H648M484 586.2H648M453.8 581.1V586.2M453.8 586.2C459.9 587.9 459.9 598.3 453.8 599.9M469 581.1V586.2M469 586.2C475.1 587.9 475.1 598.3 469 599.9M484.2 581.1V586.2M484.2 586.2C490.3 587.9 490.3 598.3 484.2 599.9M499.4 581.1V586.2M499.4 586.2C505.5 587.9 505.5 598.3 499.4 599.9M514.6 581.1V586.2M514.6 586.2C520.8 587.9 520.8 598.3 514.6 599.9M529.9 581.1V586.2M529.9 586.2C536 587.9 536 598.3 529.9 599.9M545.1 581.1V586.2M545.1 586.2C551.2 587.9 551.2 598.3 545.1 599.9M560.3 581.1V586.2M560.3 586.2C566.4 587.9 566.4 598.3 560.3 599.9M575.5 581.1V586.2M575.5 586.2C581.6 587.9 581.6 598.3 575.5 599.9M590.7 581.1V586.2M590.7 586.2C596.9 587.9 596.9 598.3 590.7 599.9M606 581.1V586.2M606 586.2C612.1 587.9 612.1 598.3 606 599.9M621.2 581.1V586.2M621.2 586.2C627.3 587.9 627.3 598.3 621.2 599.9M636.4 581.1V586.2M636.4 586.2C642.5 587.9 642.5 598.3 636.4 599.9M651.6 581.1V586.2M651.6 586.2C657.7 587.9 657.7 598.3 651.6 599.9M666.8 581.1V586.2M666.8 586.2C673 587.9 673 598.3 666.8 599.9M484 599.9H648M484 605H648M453.8 599.9V605M453.8 605C459.9 606.6 459.9 617 453.8 618.6M469 599.9V605M469 605C475.1 606.6 475.1 617 469 618.6M484.2 599.9V605M484.2 605C490.3 606.6 490.3 617 484.2 618.6M499.4 599.9V605M499.4 605C505.5 606.6 505.5 617 499.4 618.6M514.6 599.9V605M514.6 605C520.8 606.6 520.8 617 514.6 618.6M529.9 599.9V605M529.9 605C536 606.6 536 617 529.9 618.6M545.1 599.9V605M545.1 605C551.2 606.6 551.2 617 545.1 618.6M560.3 599.9V605M560.3 605C566.4 606.6 566.4 617 560.3 618.6M575.5 599.9V605M575.5 605C581.6 606.6 581.6 617 575.5 618.6M590.7 599.9V605M590.7 605C596.9 606.6 596.9 617 590.7 618.6M606 599.9V605M606 605C612.1 606.6 612.1 617 606 618.6M621.2 599.9V605M621.2 605C627.3 606.6 627.3 617 621.2 618.6M636.4 599.9V605M636.4 605C642.5 606.6 642.5 617 636.4 618.6M651.6 599.9V605M651.6 605C657.7 606.6 657.7 617 651.6 618.6M666.8 599.9V605M666.8 605C673 606.6 673 617 666.8 618.6"/></g>
<g clip-path="url(#cRD)"><path class="t" d="M390.3 376V566M395.4 376V566M390.3 359.5H395.4M395.4 359.5C397 365.7 407.4 365.7 409.1 359.5M390.3 374.8H395.4M395.4 374.8C397 380.9 407.4 380.9 409.1 374.8M390.3 390H395.4M395.4 390C397 396.1 407.4 396.1 409.1 390M390.3 405.2H395.4M395.4 405.2C397 411.3 407.4 411.3 409.1 405.2M390.3 420.4H395.4M395.4 420.4C397 426.5 407.4 426.5 409.1 420.4M390.3 435.6H395.4M395.4 435.6C397 441.8 407.4 441.8 409.1 435.6M390.3 450.9H395.4M395.4 450.9C397 457 407.4 457 409.1 450.9M390.3 466.1H395.4M395.4 466.1C397 472.2 407.4 472.2 409.1 466.1M390.3 481.3H395.4M395.4 481.3C397 487.4 407.4 487.4 409.1 481.3M390.3 496.5H395.4M395.4 496.5C397 502.6 407.4 502.6 409.1 496.5M390.3 511.7H395.4M395.4 511.7C397 517.9 407.4 517.9 409.1 511.7M390.3 527H395.4M395.4 527C397 533.1 407.4 533.1 409.1 527M390.3 542.2H395.4M395.4 542.2C397 548.3 407.4 548.3 409.1 542.2M390.3 557.4H395.4M395.4 557.4C397 563.5 407.4 563.5 409.1 557.4M390.3 572.6H395.4M395.4 572.6C397 578.7 407.4 578.7 409.1 572.6M390.3 587.8H395.4M395.4 587.8C397 594 407.4 594 409.1 587.8M409.1 376V566M414.2 376V566M409.1 359.5H414.2M414.2 359.5C415.8 365.7 426.2 365.7 427.8 359.5M409.1 374.8H414.2M414.2 374.8C415.8 380.9 426.2 380.9 427.8 374.8M409.1 390H414.2M414.2 390C415.8 396.1 426.2 396.1 427.8 390M409.1 405.2H414.2M414.2 405.2C415.8 411.3 426.2 411.3 427.8 405.2M409.1 420.4H414.2M414.2 420.4C415.8 426.5 426.2 426.5 427.8 420.4M409.1 435.6H414.2M414.2 435.6C415.8 441.8 426.2 441.8 427.8 435.6M409.1 450.9H414.2M414.2 450.9C415.8 457 426.2 457 427.8 450.9M409.1 466.1H414.2M414.2 466.1C415.8 472.2 426.2 472.2 427.8 466.1M409.1 481.3H414.2M414.2 481.3C415.8 487.4 426.2 487.4 427.8 481.3M409.1 496.5H414.2M414.2 496.5C415.8 502.6 426.2 502.6 427.8 496.5M409.1 511.7H414.2M414.2 511.7C415.8 517.9 426.2 517.9 427.8 511.7M409.1 527H414.2M414.2 527C415.8 533.1 426.2 533.1 427.8 527M409.1 542.2H414.2M414.2 542.2C415.8 548.3 426.2 548.3 427.8 542.2M409.1 557.4H414.2M414.2 557.4C415.8 563.5 426.2 563.5 427.8 557.4M409.1 572.6H414.2M414.2 572.6C415.8 578.7 426.2 578.7 427.8 572.6M409.1 587.8H414.2M414.2 587.8C415.8 594 426.2 594 427.8 587.8M427.8 376V566M432.9 376V566M427.8 359.5H432.9M432.9 359.5C434.5 365.7 444.9 365.7 446.6 359.5M427.8 374.8H432.9M432.9 374.8C434.5 380.9 444.9 380.9 446.6 374.8M427.8 390H432.9M432.9 390C434.5 396.1 444.9 396.1 446.6 390M427.8 405.2H432.9M432.9 405.2C434.5 411.3 444.9 411.3 446.6 405.2M427.8 420.4H432.9M432.9 420.4C434.5 426.5 444.9 426.5 446.6 420.4M427.8 435.6H432.9M432.9 435.6C434.5 441.8 444.9 441.8 446.6 435.6M427.8 450.9H432.9M432.9 450.9C434.5 457 444.9 457 446.6 450.9M427.8 466.1H432.9M432.9 466.1C434.5 472.2 444.9 472.2 446.6 466.1M427.8 481.3H432.9M432.9 481.3C434.5 487.4 444.9 487.4 446.6 481.3M427.8 496.5H432.9M432.9 496.5C434.5 502.6 444.9 502.6 446.6 496.5M427.8 511.7H432.9M432.9 511.7C434.5 517.9 444.9 517.9 446.6 511.7M427.8 527H432.9M432.9 527C434.5 533.1 444.9 533.1 446.6 527M427.8 542.2H432.9M432.9 542.2C434.5 548.3 444.9 548.3 446.6 542.2M427.8 557.4H432.9M432.9 557.4C434.5 563.5 444.9 563.5 446.6 557.4M427.8 572.6H432.9M432.9 572.6C434.5 578.7 444.9 578.7 446.6 572.6M427.8 587.8H432.9M432.9 587.8C434.5 594 444.9 594 446.6 587.8M446.6 376V566M451.7 376V566M446.6 359.5H451.7M451.7 359.5C453.3 365.7 463.7 365.7 465.3 359.5M446.6 374.8H451.7M451.7 374.8C453.3 380.9 463.7 380.9 465.3 374.8M446.6 390H451.7M451.7 390C453.3 396.1 463.7 396.1 465.3 390M446.6 405.2H451.7M451.7 405.2C453.3 411.3 463.7 411.3 465.3 405.2M446.6 420.4H451.7M451.7 420.4C453.3 426.5 463.7 426.5 465.3 420.4M446.6 435.6H451.7M451.7 435.6C453.3 441.8 463.7 441.8 465.3 435.6M446.6 450.9H451.7M451.7 450.9C453.3 457 463.7 457 465.3 450.9M446.6 466.1H451.7M451.7 466.1C453.3 472.2 463.7 472.2 465.3 466.1M446.6 481.3H451.7M451.7 481.3C453.3 487.4 463.7 487.4 465.3 481.3M446.6 496.5H451.7M451.7 496.5C453.3 502.6 463.7 502.6 465.3 496.5M446.6 511.7H451.7M451.7 511.7C453.3 517.9 463.7 517.9 465.3 511.7M446.6 527H451.7M451.7 527C453.3 533.1 463.7 533.1 465.3 527M446.6 542.2H451.7M451.7 542.2C453.3 548.3 463.7 548.3 465.3 542.2M446.6 557.4H451.7M451.7 557.4C453.3 563.5 463.7 563.5 465.3 557.4M446.6 572.6H451.7M451.7 572.6C453.3 578.7 463.7 578.7 465.3 572.6M446.6 587.8H451.7M451.7 587.8C453.3 594 463.7 594 465.3 587.8M465.3 376V566M470.4 376V566M465.3 359.5H470.4M470.4 359.5C472 365.7 482.4 365.7 484.1 359.5M465.3 374.8H470.4M470.4 374.8C472 380.9 482.4 380.9 484.1 374.8M465.3 390H470.4M470.4 390C472 396.1 482.4 396.1 484.1 390M465.3 405.2H470.4M470.4 405.2C472 411.3 482.4 411.3 484.1 405.2M465.3 420.4H470.4M470.4 420.4C472 426.5 482.4 426.5 484.1 420.4M465.3 435.6H470.4M470.4 435.6C472 441.8 482.4 441.8 484.1 435.6M465.3 450.9H470.4M470.4 450.9C472 457 482.4 457 484.1 450.9M465.3 466.1H470.4M470.4 466.1C472 472.2 482.4 472.2 484.1 466.1M465.3 481.3H470.4M470.4 481.3C472 487.4 482.4 487.4 484.1 481.3M465.3 496.5H470.4M470.4 496.5C472 502.6 482.4 502.6 484.1 496.5M465.3 511.7H470.4M470.4 511.7C472 517.9 482.4 517.9 484.1 511.7M465.3 527H470.4M470.4 527C472 533.1 482.4 533.1 484.1 527M465.3 542.2H470.4M470.4 542.2C472 548.3 482.4 548.3 484.1 542.2M465.3 557.4H470.4M470.4 557.4C472 563.5 482.4 563.5 484.1 557.4M465.3 572.6H470.4M470.4 572.6C472 578.7 482.4 578.7 484.1 572.6M465.3 587.8H470.4M470.4 587.8C472 594 482.4 594 484.1 587.8M484.1 376V566M489.2 376V566M484.1 359.5H489.2M489.2 359.5C490.8 365.7 501.2 365.7 502.8 359.5M484.1 374.8H489.2M489.2 374.8C490.8 380.9 501.2 380.9 502.8 374.8M484.1 390H489.2M489.2 390C490.8 396.1 501.2 396.1 502.8 390M484.1 405.2H489.2M489.2 405.2C490.8 411.3 501.2 411.3 502.8 405.2M484.1 420.4H489.2M489.2 420.4C490.8 426.5 501.2 426.5 502.8 420.4M484.1 435.6H489.2M489.2 435.6C490.8 441.8 501.2 441.8 502.8 435.6M484.1 450.9H489.2M489.2 450.9C490.8 457 501.2 457 502.8 450.9M484.1 466.1H489.2M489.2 466.1C490.8 472.2 501.2 472.2 502.8 466.1M484.1 481.3H489.2M489.2 481.3C490.8 487.4 501.2 487.4 502.8 481.3M484.1 496.5H489.2M489.2 496.5C490.8 502.6 501.2 502.6 502.8 496.5M484.1 511.7H489.2M489.2 511.7C490.8 517.9 501.2 517.9 502.8 511.7M484.1 527H489.2M489.2 527C490.8 533.1 501.2 533.1 502.8 527M484.1 542.2H489.2M489.2 542.2C490.8 548.3 501.2 548.3 502.8 542.2M484.1 557.4H489.2M489.2 557.4C490.8 563.5 501.2 563.5 502.8 557.4M484.1 572.6H489.2M489.2 572.6C490.8 578.7 501.2 578.7 502.8 572.6M484.1 587.8H489.2M489.2 587.8C490.8 594 501.2 594 502.8 587.8M502.8 376V566M507.9 376V566M502.8 359.5H507.9M507.9 359.5C509.5 365.7 519.9 365.7 521.5 359.5M502.8 374.8H507.9M507.9 374.8C509.5 380.9 519.9 380.9 521.5 374.8M502.8 390H507.9M507.9 390C509.5 396.1 519.9 396.1 521.5 390M502.8 405.2H507.9M507.9 405.2C509.5 411.3 519.9 411.3 521.5 405.2M502.8 420.4H507.9M507.9 420.4C509.5 426.5 519.9 426.5 521.5 420.4M502.8 435.6H507.9M507.9 435.6C509.5 441.8 519.9 441.8 521.5 435.6M502.8 450.9H507.9M507.9 450.9C509.5 457 519.9 457 521.5 450.9M502.8 466.1H507.9M507.9 466.1C509.5 472.2 519.9 472.2 521.5 466.1M502.8 481.3H507.9M507.9 481.3C509.5 487.4 519.9 487.4 521.5 481.3M502.8 496.5H507.9M507.9 496.5C509.5 502.6 519.9 502.6 521.5 496.5M502.8 511.7H507.9M507.9 511.7C509.5 517.9 519.9 517.9 521.5 511.7M502.8 527H507.9M507.9 527C509.5 533.1 519.9 533.1 521.5 527M502.8 542.2H507.9M507.9 542.2C509.5 548.3 519.9 548.3 521.5 542.2M502.8 557.4H507.9M507.9 557.4C509.5 563.5 519.9 563.5 521.5 557.4M502.8 572.6H507.9M507.9 572.6C509.5 578.7 519.9 578.7 521.5 572.6M502.8 587.8H507.9M507.9 587.8C509.5 594 519.9 594 521.5 587.8M521.5 376V566M526.6 376V566M521.5 359.5H526.6M526.6 359.5C528.3 365.7 538.7 365.7 540.3 359.5M521.5 374.8H526.6M526.6 374.8C528.3 380.9 538.7 380.9 540.3 374.8M521.5 390H526.6M526.6 390C528.3 396.1 538.7 396.1 540.3 390M521.5 405.2H526.6M526.6 405.2C528.3 411.3 538.7 411.3 540.3 405.2M521.5 420.4H526.6M526.6 420.4C528.3 426.5 538.7 426.5 540.3 420.4M521.5 435.6H526.6M526.6 435.6C528.3 441.8 538.7 441.8 540.3 435.6M521.5 450.9H526.6M526.6 450.9C528.3 457 538.7 457 540.3 450.9M521.5 466.1H526.6M526.6 466.1C528.3 472.2 538.7 472.2 540.3 466.1M521.5 481.3H526.6M526.6 481.3C528.3 487.4 538.7 487.4 540.3 481.3M521.5 496.5H526.6M526.6 496.5C528.3 502.6 538.7 502.6 540.3 496.5M521.5 511.7H526.6M526.6 511.7C528.3 517.9 538.7 517.9 540.3 511.7M521.5 527H526.6M526.6 527C528.3 533.1 538.7 533.1 540.3 527M521.5 542.2H526.6M526.6 542.2C528.3 548.3 538.7 548.3 540.3 542.2M521.5 557.4H526.6M526.6 557.4C528.3 563.5 538.7 563.5 540.3 557.4M521.5 572.6H526.6M526.6 572.6C528.3 578.7 538.7 578.7 540.3 572.6M521.5 587.8H526.6M526.6 587.8C528.3 594 538.7 594 540.3 587.8M540.3 376V566M545.4 376V566M540.3 359.5H545.4M545.4 359.5C547 365.7 557.4 365.7 559 359.5M540.3 374.8H545.4M545.4 374.8C547 380.9 557.4 380.9 559 374.8M540.3 390H545.4M545.4 390C547 396.1 557.4 396.1 559 390M540.3 405.2H545.4M545.4 405.2C547 411.3 557.4 411.3 559 405.2M540.3 420.4H545.4M545.4 420.4C547 426.5 557.4 426.5 559 420.4M540.3 435.6H545.4M545.4 435.6C547 441.8 557.4 441.8 559 435.6M540.3 450.9H545.4M545.4 450.9C547 457 557.4 457 559 450.9M540.3 466.1H545.4M545.4 466.1C547 472.2 557.4 472.2 559 466.1M540.3 481.3H545.4M545.4 481.3C547 487.4 557.4 487.4 559 481.3M540.3 496.5H545.4M545.4 496.5C547 502.6 557.4 502.6 559 496.5M540.3 511.7H545.4M545.4 511.7C547 517.9 557.4 517.9 559 511.7M540.3 527H545.4M545.4 527C547 533.1 557.4 533.1 559 527M540.3 542.2H545.4M545.4 542.2C547 548.3 557.4 548.3 559 542.2M540.3 557.4H545.4M545.4 557.4C547 563.5 557.4 563.5 559 557.4M540.3 572.6H545.4M545.4 572.6C547 578.7 557.4 578.7 559 572.6M540.3 587.8H545.4M545.4 587.8C547 594 557.4 594 559 587.8M559 376V566M564.1 376V566M559 359.5H564.1M564.1 359.5C565.8 365.7 576.2 365.7 577.8 359.5M559 374.8H564.1M564.1 374.8C565.8 380.9 576.2 380.9 577.8 374.8M559 390H564.1M564.1 390C565.8 396.1 576.2 396.1 577.8 390M559 405.2H564.1M564.1 405.2C565.8 411.3 576.2 411.3 577.8 405.2M559 420.4H564.1M564.1 420.4C565.8 426.5 576.2 426.5 577.8 420.4M559 435.6H564.1M564.1 435.6C565.8 441.8 576.2 441.8 577.8 435.6M559 450.9H564.1M564.1 450.9C565.8 457 576.2 457 577.8 450.9M559 466.1H564.1M564.1 466.1C565.8 472.2 576.2 472.2 577.8 466.1M559 481.3H564.1M564.1 481.3C565.8 487.4 576.2 487.4 577.8 481.3M559 496.5H564.1M564.1 496.5C565.8 502.6 576.2 502.6 577.8 496.5M559 511.7H564.1M564.1 511.7C565.8 517.9 576.2 517.9 577.8 511.7M559 527H564.1M564.1 527C565.8 533.1 576.2 533.1 577.8 527M559 542.2H564.1M564.1 542.2C565.8 548.3 576.2 548.3 577.8 542.2M559 557.4H564.1M564.1 557.4C565.8 563.5 576.2 563.5 577.8 557.4M559 572.6H564.1M564.1 572.6C565.8 578.7 576.2 578.7 577.8 572.6M559 587.8H564.1M564.1 587.8C565.8 594 576.2 594 577.8 587.8M577.8 376V566M582.9 376V566M577.8 359.5H582.9M582.9 359.5C584.5 365.7 594.9 365.7 596.5 359.5M577.8 374.8H582.9M582.9 374.8C584.5 380.9 594.9 380.9 596.5 374.8M577.8 390H582.9M582.9 390C584.5 396.1 594.9 396.1 596.5 390M577.8 405.2H582.9M582.9 405.2C584.5 411.3 594.9 411.3 596.5 405.2M577.8 420.4H582.9M582.9 420.4C584.5 426.5 594.9 426.5 596.5 420.4M577.8 435.6H582.9M582.9 435.6C584.5 441.8 594.9 441.8 596.5 435.6M577.8 450.9H582.9M582.9 450.9C584.5 457 594.9 457 596.5 450.9M577.8 466.1H582.9M582.9 466.1C584.5 472.2 594.9 472.2 596.5 466.1M577.8 481.3H582.9M582.9 481.3C584.5 487.4 594.9 487.4 596.5 481.3M577.8 496.5H582.9M582.9 496.5C584.5 502.6 594.9 502.6 596.5 496.5M577.8 511.7H582.9M582.9 511.7C584.5 517.9 594.9 517.9 596.5 511.7M577.8 527H582.9M582.9 527C584.5 533.1 594.9 533.1 596.5 527M577.8 542.2H582.9M582.9 542.2C584.5 548.3 594.9 548.3 596.5 542.2M577.8 557.4H582.9M582.9 557.4C584.5 563.5 594.9 563.5 596.5 557.4M577.8 572.6H582.9M582.9 572.6C584.5 578.7 594.9 578.7 596.5 572.6M577.8 587.8H582.9M582.9 587.8C584.5 594 594.9 594 596.5 587.8M596.5 376V566M601.6 376V566M596.5 359.5H601.6M601.6 359.5C603.3 365.7 613.7 365.7 615.3 359.5M596.5 374.8H601.6M601.6 374.8C603.3 380.9 613.7 380.9 615.3 374.8M596.5 390H601.6M601.6 390C603.3 396.1 613.7 396.1 615.3 390M596.5 405.2H601.6M601.6 405.2C603.3 411.3 613.7 411.3 615.3 405.2M596.5 420.4H601.6M601.6 420.4C603.3 426.5 613.7 426.5 615.3 420.4M596.5 435.6H601.6M601.6 435.6C603.3 441.8 613.7 441.8 615.3 435.6M596.5 450.9H601.6M601.6 450.9C603.3 457 613.7 457 615.3 450.9M596.5 466.1H601.6M601.6 466.1C603.3 472.2 613.7 472.2 615.3 466.1M596.5 481.3H601.6M601.6 481.3C603.3 487.4 613.7 487.4 615.3 481.3M596.5 496.5H601.6M601.6 496.5C603.3 502.6 613.7 502.6 615.3 496.5M596.5 511.7H601.6M601.6 511.7C603.3 517.9 613.7 517.9 615.3 511.7M596.5 527H601.6M601.6 527C603.3 533.1 613.7 533.1 615.3 527M596.5 542.2H601.6M601.6 542.2C603.3 548.3 613.7 548.3 615.3 542.2M596.5 557.4H601.6M601.6 557.4C603.3 563.5 613.7 563.5 615.3 557.4M596.5 572.6H601.6M601.6 572.6C603.3 578.7 613.7 578.7 615.3 572.6M596.5 587.8H601.6M601.6 587.8C603.3 594 613.7 594 615.3 587.8M615.3 376V566M620.4 376V566M615.3 359.5H620.4M620.4 359.5C622 365.7 632.4 365.7 634 359.5M615.3 374.8H620.4M620.4 374.8C622 380.9 632.4 380.9 634 374.8M615.3 390H620.4M620.4 390C622 396.1 632.4 396.1 634 390M615.3 405.2H620.4M620.4 405.2C622 411.3 632.4 411.3 634 405.2M615.3 420.4H620.4M620.4 420.4C622 426.5 632.4 426.5 634 420.4M615.3 435.6H620.4M620.4 435.6C622 441.8 632.4 441.8 634 435.6M615.3 450.9H620.4M620.4 450.9C622 457 632.4 457 634 450.9M615.3 466.1H620.4M620.4 466.1C622 472.2 632.4 472.2 634 466.1M615.3 481.3H620.4M620.4 481.3C622 487.4 632.4 487.4 634 481.3M615.3 496.5H620.4M620.4 496.5C622 502.6 632.4 502.6 634 496.5M615.3 511.7H620.4M620.4 511.7C622 517.9 632.4 517.9 634 511.7M615.3 527H620.4M620.4 527C622 533.1 632.4 533.1 634 527M615.3 542.2H620.4M620.4 542.2C622 548.3 632.4 548.3 634 542.2M615.3 557.4H620.4M620.4 557.4C622 563.5 632.4 563.5 634 557.4M615.3 572.6H620.4M620.4 572.6C622 578.7 632.4 578.7 634 572.6M615.3 587.8H620.4M620.4 587.8C622 594 632.4 594 634 587.8M634 376V566M639.1 376V566M634 359.5H639.1M639.1 359.5C640.8 365.7 651.2 365.7 652.8 359.5M634 374.8H639.1M639.1 374.8C640.8 380.9 651.2 380.9 652.8 374.8M634 390H639.1M639.1 390C640.8 396.1 651.2 396.1 652.8 390M634 405.2H639.1M639.1 405.2C640.8 411.3 651.2 411.3 652.8 405.2M634 420.4H639.1M639.1 420.4C640.8 426.5 651.2 426.5 652.8 420.4M634 435.6H639.1M639.1 435.6C640.8 441.8 651.2 441.8 652.8 435.6M634 450.9H639.1M639.1 450.9C640.8 457 651.2 457 652.8 450.9M634 466.1H639.1M639.1 466.1C640.8 472.2 651.2 472.2 652.8 466.1M634 481.3H639.1M639.1 481.3C640.8 487.4 651.2 487.4 652.8 481.3M634 496.5H639.1M639.1 496.5C640.8 502.6 651.2 502.6 652.8 496.5M634 511.7H639.1M639.1 511.7C640.8 517.9 651.2 517.9 652.8 511.7M634 527H639.1M639.1 527C640.8 533.1 651.2 533.1 652.8 527M634 542.2H639.1M639.1 542.2C640.8 548.3 651.2 548.3 652.8 542.2M634 557.4H639.1M639.1 557.4C640.8 563.5 651.2 563.5 652.8 557.4M634 572.6H639.1M639.1 572.6C640.8 578.7 651.2 578.7 652.8 572.6M634 587.8H639.1M639.1 587.8C640.8 594 651.2 594 652.8 587.8M652.8 376V566M657.9 376V566M652.8 359.5H657.9M657.9 359.5C659.5 365.7 669.9 365.7 671.5 359.5M652.8 374.8H657.9M657.9 374.8C659.5 380.9 669.9 380.9 671.5 374.8M652.8 390H657.9M657.9 390C659.5 396.1 669.9 396.1 671.5 390M652.8 405.2H657.9M657.9 405.2C659.5 411.3 669.9 411.3 671.5 405.2M652.8 420.4H657.9M657.9 420.4C659.5 426.5 669.9 426.5 671.5 420.4M652.8 435.6H657.9M657.9 435.6C659.5 441.8 669.9 441.8 671.5 435.6M652.8 450.9H657.9M657.9 450.9C659.5 457 669.9 457 671.5 450.9M652.8 466.1H657.9M657.9 466.1C659.5 472.2 669.9 472.2 671.5 466.1M652.8 481.3H657.9M657.9 481.3C659.5 487.4 669.9 487.4 671.5 481.3M652.8 496.5H657.9M657.9 496.5C659.5 502.6 669.9 502.6 671.5 496.5M652.8 511.7H657.9M657.9 511.7C659.5 517.9 669.9 517.9 671.5 511.7M652.8 527H657.9M657.9 527C659.5 533.1 669.9 533.1 671.5 527M652.8 542.2H657.9M657.9 542.2C659.5 548.3 669.9 548.3 671.5 542.2M652.8 557.4H657.9M657.9 557.4C659.5 563.5 669.9 563.5 671.5 557.4M652.8 572.6H657.9M657.9 572.6C659.5 578.7 669.9 578.7 671.5 572.6M652.8 587.8H657.9M657.9 587.8C659.5 594 669.9 594 671.5 587.8M671.5 376V566M676.6 376V566M671.5 359.5H676.6M676.6 359.5C678.3 365.7 688.7 365.7 690.3 359.5M671.5 374.8H676.6M676.6 374.8C678.3 380.9 688.7 380.9 690.3 374.8M671.5 390H676.6M676.6 390C678.3 396.1 688.7 396.1 690.3 390M671.5 405.2H676.6M676.6 405.2C678.3 411.3 688.7 411.3 690.3 405.2M671.5 420.4H676.6M676.6 420.4C678.3 426.5 688.7 426.5 690.3 420.4M671.5 435.6H676.6M676.6 435.6C678.3 441.8 688.7 441.8 690.3 435.6M671.5 450.9H676.6M676.6 450.9C678.3 457 688.7 457 690.3 450.9M671.5 466.1H676.6M676.6 466.1C678.3 472.2 688.7 472.2 690.3 466.1M671.5 481.3H676.6M676.6 481.3C678.3 487.4 688.7 487.4 690.3 481.3M671.5 496.5H676.6M676.6 496.5C678.3 502.6 688.7 502.6 690.3 496.5M671.5 511.7H676.6M676.6 511.7C678.3 517.9 688.7 517.9 690.3 511.7M671.5 527H676.6M676.6 527C678.3 533.1 688.7 533.1 690.3 527M671.5 542.2H676.6M676.6 542.2C678.3 548.3 688.7 548.3 690.3 542.2M671.5 557.4H676.6M676.6 557.4C678.3 563.5 688.7 563.5 690.3 557.4M671.5 572.6H676.6M676.6 572.6C678.3 578.7 688.7 578.7 690.3 572.6M671.5 587.8H676.6M676.6 587.8C678.3 594 688.7 594 690.3 587.8"/></g>
<g clip-path="url(#cBL)"><path class="t" d="M190 470.5H311M190 475.6H311M171.3 470.5V475.6M171.3 475.6C165.2 477.2 165.2 487.6 171.3 489.2M186.5 470.5V475.6M186.5 475.6C180.4 477.2 180.4 487.6 186.5 489.2M201.8 470.5V475.6M201.8 475.6C195.6 477.2 195.6 487.6 201.8 489.2M217 470.5V475.6M217 475.6C210.9 477.2 210.9 487.6 217 489.2M232.2 470.5V475.6M232.2 475.6C226.1 477.2 226.1 487.6 232.2 489.2M247.4 470.5V475.6M247.4 475.6C241.3 477.2 241.3 487.6 247.4 489.2M262.6 470.5V475.6M262.6 475.6C256.5 477.2 256.5 487.6 262.6 489.2M277.9 470.5V475.6M277.9 475.6C271.7 477.2 271.7 487.6 277.9 489.2M293.1 470.5V475.6M293.1 475.6C287 477.2 287 487.6 293.1 489.2M308.3 470.5V475.6M308.3 475.6C302.2 477.2 302.2 487.6 308.3 489.2M323.5 470.5V475.6M323.5 475.6C317.4 477.2 317.4 487.6 323.5 489.2M338.7 470.5V475.6M338.7 475.6C332.6 477.2 332.6 487.6 338.7 489.2M190 489.2H311M190 494.4H311M171.3 489.2V494.4M171.3 494.4C165.2 496 165.2 506.4 171.3 508M186.5 489.2V494.4M186.5 494.4C180.4 496 180.4 506.4 186.5 508M201.8 489.2V494.4M201.8 494.4C195.6 496 195.6 506.4 201.8 508M217 489.2V494.4M217 494.4C210.9 496 210.9 506.4 217 508M232.2 489.2V494.4M232.2 494.4C226.1 496 226.1 506.4 232.2 508M247.4 489.2V494.4M247.4 494.4C241.3 496 241.3 506.4 247.4 508M262.6 489.2V494.4M262.6 494.4C256.5 496 256.5 506.4 262.6 508M277.9 489.2V494.4M277.9 494.4C271.7 496 271.7 506.4 277.9 508M293.1 489.2V494.4M293.1 494.4C287 496 287 506.4 293.1 508M308.3 489.2V494.4M308.3 494.4C302.2 496 302.2 506.4 308.3 508M323.5 489.2V494.4M323.5 494.4C317.4 496 317.4 506.4 323.5 508M338.7 489.2V494.4M338.7 494.4C332.6 496 332.6 506.4 338.7 508M190 508H311M190 513.1H311M171.3 508V513.1M171.3 513.1C165.2 514.7 165.2 525.1 171.3 526.8M186.5 508V513.1M186.5 513.1C180.4 514.7 180.4 525.1 186.5 526.8M201.8 508V513.1M201.8 513.1C195.6 514.7 195.6 525.1 201.8 526.8M217 508V513.1M217 513.1C210.9 514.7 210.9 525.1 217 526.8M232.2 508V513.1M232.2 513.1C226.1 514.7 226.1 525.1 232.2 526.8M247.4 508V513.1M247.4 513.1C241.3 514.7 241.3 525.1 247.4 526.8M262.6 508V513.1M262.6 513.1C256.5 514.7 256.5 525.1 262.6 526.8M277.9 508V513.1M277.9 513.1C271.7 514.7 271.7 525.1 277.9 526.8M293.1 508V513.1M293.1 513.1C287 514.7 287 525.1 293.1 526.8M308.3 508V513.1M308.3 513.1C302.2 514.7 302.2 525.1 308.3 526.8M323.5 508V513.1M323.5 513.1C317.4 514.7 317.4 525.1 323.5 526.8M338.7 508V513.1M338.7 513.1C332.6 514.7 332.6 525.1 338.7 526.8M190 526.8H311M190 531.9H311M171.3 526.8V531.9M171.3 531.9C165.2 533.5 165.2 543.9 171.3 545.5M186.5 526.8V531.9M186.5 531.9C180.4 533.5 180.4 543.9 186.5 545.5M201.8 526.8V531.9M201.8 531.9C195.6 533.5 195.6 543.9 201.8 545.5M217 526.8V531.9M217 531.9C210.9 533.5 210.9 543.9 217 545.5M232.2 526.8V531.9M232.2 531.9C226.1 533.5 226.1 543.9 232.2 545.5M247.4 526.8V531.9M247.4 531.9C241.3 533.5 241.3 543.9 247.4 545.5M262.6 526.8V531.9M262.6 531.9C256.5 533.5 256.5 543.9 262.6 545.5M277.9 526.8V531.9M277.9 531.9C271.7 533.5 271.7 543.9 277.9 545.5M293.1 526.8V531.9M293.1 531.9C287 533.5 287 543.9 293.1 545.5M308.3 526.8V531.9M308.3 531.9C302.2 533.5 302.2 543.9 308.3 545.5M323.5 526.8V531.9M323.5 531.9C317.4 533.5 317.4 543.9 323.5 545.5M338.7 526.8V531.9M338.7 531.9C332.6 533.5 332.6 543.9 338.7 545.5M190 545.5H311M190 550.6H311M171.3 545.5V550.6M171.3 550.6C165.2 552.2 165.2 562.6 171.3 564.2M186.5 545.5V550.6M186.5 550.6C180.4 552.2 180.4 562.6 186.5 564.2M201.8 545.5V550.6M201.8 550.6C195.6 552.2 195.6 562.6 201.8 564.2M217 545.5V550.6M217 550.6C210.9 552.2 210.9 562.6 217 564.2M232.2 545.5V550.6M232.2 550.6C226.1 552.2 226.1 562.6 232.2 564.2M247.4 545.5V550.6M247.4 550.6C241.3 552.2 241.3 562.6 247.4 564.2M262.6 545.5V550.6M262.6 550.6C256.5 552.2 256.5 562.6 262.6 564.2M277.9 545.5V550.6M277.9 550.6C271.7 552.2 271.7 562.6 277.9 564.2M293.1 545.5V550.6M293.1 550.6C287 552.2 287 562.6 293.1 564.2M308.3 545.5V550.6M308.3 550.6C302.2 552.2 302.2 562.6 308.3 564.2M323.5 545.5V550.6M323.5 550.6C317.4 552.2 317.4 562.6 323.5 564.2M338.7 545.5V550.6M338.7 550.6C332.6 552.2 332.6 562.6 338.7 564.2M190 564.2H311M190 569.4H311M171.3 564.2V569.4M171.3 569.4C165.2 571 165.2 581.4 171.3 583M186.5 564.2V569.4M186.5 569.4C180.4 571 180.4 581.4 186.5 583M201.8 564.2V569.4M201.8 569.4C195.6 571 195.6 581.4 201.8 583M217 564.2V569.4M217 569.4C210.9 571 210.9 581.4 217 583M232.2 564.2V569.4M232.2 569.4C226.1 571 226.1 581.4 232.2 583M247.4 564.2V569.4M247.4 569.4C241.3 571 241.3 581.4 247.4 583M262.6 564.2V569.4M262.6 569.4C256.5 571 256.5 581.4 262.6 583M277.9 564.2V569.4M277.9 569.4C271.7 571 271.7 581.4 277.9 583M293.1 564.2V569.4M293.1 569.4C287 571 287 581.4 293.1 583M308.3 564.2V569.4M308.3 569.4C302.2 571 302.2 581.4 308.3 583M323.5 564.2V569.4M323.5 569.4C317.4 571 317.4 581.4 323.5 583M338.7 564.2V569.4M338.7 569.4C332.6 571 332.6 581.4 338.7 583M190 583H311M190 588.1H311M171.3 583V588.1M171.3 588.1C165.2 589.7 165.2 600.1 171.3 601.8M186.5 583V588.1M186.5 588.1C180.4 589.7 180.4 600.1 186.5 601.8M201.8 583V588.1M201.8 588.1C195.6 589.7 195.6 600.1 201.8 601.8M217 583V588.1M217 588.1C210.9 589.7 210.9 600.1 217 601.8M232.2 583V588.1M232.2 588.1C226.1 589.7 226.1 600.1 232.2 601.8M247.4 583V588.1M247.4 588.1C241.3 589.7 241.3 600.1 247.4 601.8M262.6 583V588.1M262.6 588.1C256.5 589.7 256.5 600.1 262.6 601.8M277.9 583V588.1M277.9 588.1C271.7 589.7 271.7 600.1 277.9 601.8M293.1 583V588.1M293.1 588.1C287 589.7 287 600.1 293.1 601.8M308.3 583V588.1M308.3 588.1C302.2 589.7 302.2 600.1 308.3 601.8M323.5 583V588.1M323.5 588.1C317.4 589.7 317.4 600.1 323.5 601.8M338.7 583V588.1M338.7 588.1C332.6 589.7 332.6 600.1 338.7 601.8M190 601.8H311M190 606.9H311M171.3 601.8V606.9M171.3 606.9C165.2 608.5 165.2 618.9 171.3 620.5M186.5 601.8V606.9M186.5 606.9C180.4 608.5 180.4 618.9 186.5 620.5M201.8 601.8V606.9M201.8 606.9C195.6 608.5 195.6 618.9 201.8 620.5M217 601.8V606.9M217 606.9C210.9 608.5 210.9 618.9 217 620.5M232.2 601.8V606.9M232.2 606.9C226.1 608.5 226.1 618.9 232.2 620.5M247.4 601.8V606.9M247.4 606.9C241.3 608.5 241.3 618.9 247.4 620.5M262.6 601.8V606.9M262.6 606.9C256.5 608.5 256.5 618.9 262.6 620.5M277.9 601.8V606.9M277.9 606.9C271.7 608.5 271.7 618.9 277.9 620.5M293.1 601.8V606.9M293.1 606.9C287 608.5 287 618.9 293.1 620.5M308.3 601.8V606.9M308.3 606.9C302.2 608.5 302.2 618.9 308.3 620.5M323.5 601.8V606.9M323.5 606.9C317.4 608.5 317.4 618.9 323.5 620.5M338.7 601.8V606.9M338.7 606.9C332.6 608.5 332.6 618.9 338.7 620.5"/></g>
<g clip-path="url(#cBR)"><path class="t" d="M308 470.5H425M308 475.6H425M287.2 470.5V475.6M287.2 475.6C293.3 477.2 293.3 487.6 287.2 489.2M302.4 470.5V475.6M302.4 475.6C308.5 477.2 308.5 487.6 302.4 489.2M317.6 470.5V475.6M317.6 475.6C323.7 477.2 323.7 487.6 317.6 489.2M332.8 470.5V475.6M332.8 475.6C338.9 477.2 338.9 487.6 332.8 489.2M348 470.5V475.6M348 475.6C354.2 477.2 354.2 487.6 348 489.2M363.3 470.5V475.6M363.3 475.6C369.4 477.2 369.4 487.6 363.3 489.2M378.5 470.5V475.6M378.5 475.6C384.6 477.2 384.6 487.6 378.5 489.2M393.7 470.5V475.6M393.7 475.6C399.8 477.2 399.8 487.6 393.7 489.2M408.9 470.5V475.6M408.9 475.6C415 477.2 415 487.6 408.9 489.2M424.1 470.5V475.6M424.1 475.6C430.3 477.2 430.3 487.6 424.1 489.2M439.4 470.5V475.6M439.4 475.6C445.5 477.2 445.5 487.6 439.4 489.2M454.6 470.5V475.6M454.6 475.6C460.7 477.2 460.7 487.6 454.6 489.2M308 489.2H425M308 494.4H425M287.2 489.2V494.4M287.2 494.4C293.3 496 293.3 506.4 287.2 508M302.4 489.2V494.4M302.4 494.4C308.5 496 308.5 506.4 302.4 508M317.6 489.2V494.4M317.6 494.4C323.7 496 323.7 506.4 317.6 508M332.8 489.2V494.4M332.8 494.4C338.9 496 338.9 506.4 332.8 508M348 489.2V494.4M348 494.4C354.2 496 354.2 506.4 348 508M363.3 489.2V494.4M363.3 494.4C369.4 496 369.4 506.4 363.3 508M378.5 489.2V494.4M378.5 494.4C384.6 496 384.6 506.4 378.5 508M393.7 489.2V494.4M393.7 494.4C399.8 496 399.8 506.4 393.7 508M408.9 489.2V494.4M408.9 494.4C415 496 415 506.4 408.9 508M424.1 489.2V494.4M424.1 494.4C430.3 496 430.3 506.4 424.1 508M439.4 489.2V494.4M439.4 494.4C445.5 496 445.5 506.4 439.4 508M454.6 489.2V494.4M454.6 494.4C460.7 496 460.7 506.4 454.6 508M308 508H425M308 513.1H425M287.2 508V513.1M287.2 513.1C293.3 514.7 293.3 525.1 287.2 526.8M302.4 508V513.1M302.4 513.1C308.5 514.7 308.5 525.1 302.4 526.8M317.6 508V513.1M317.6 513.1C323.7 514.7 323.7 525.1 317.6 526.8M332.8 508V513.1M332.8 513.1C338.9 514.7 338.9 525.1 332.8 526.8M348 508V513.1M348 513.1C354.2 514.7 354.2 525.1 348 526.8M363.3 508V513.1M363.3 513.1C369.4 514.7 369.4 525.1 363.3 526.8M378.5 508V513.1M378.5 513.1C384.6 514.7 384.6 525.1 378.5 526.8M393.7 508V513.1M393.7 513.1C399.8 514.7 399.8 525.1 393.7 526.8M408.9 508V513.1M408.9 513.1C415 514.7 415 525.1 408.9 526.8M424.1 508V513.1M424.1 513.1C430.3 514.7 430.3 525.1 424.1 526.8M439.4 508V513.1M439.4 513.1C445.5 514.7 445.5 525.1 439.4 526.8M454.6 508V513.1M454.6 513.1C460.7 514.7 460.7 525.1 454.6 526.8M308 526.8H425M308 531.9H425M287.2 526.8V531.9M287.2 531.9C293.3 533.5 293.3 543.9 287.2 545.5M302.4 526.8V531.9M302.4 531.9C308.5 533.5 308.5 543.9 302.4 545.5M317.6 526.8V531.9M317.6 531.9C323.7 533.5 323.7 543.9 317.6 545.5M332.8 526.8V531.9M332.8 531.9C338.9 533.5 338.9 543.9 332.8 545.5M348 526.8V531.9M348 531.9C354.2 533.5 354.2 543.9 348 545.5M363.3 526.8V531.9M363.3 531.9C369.4 533.5 369.4 543.9 363.3 545.5M378.5 526.8V531.9M378.5 531.9C384.6 533.5 384.6 543.9 378.5 545.5M393.7 526.8V531.9M393.7 531.9C399.8 533.5 399.8 543.9 393.7 545.5M408.9 526.8V531.9M408.9 531.9C415 533.5 415 543.9 408.9 545.5M424.1 526.8V531.9M424.1 531.9C430.3 533.5 430.3 543.9 424.1 545.5M439.4 526.8V531.9M439.4 531.9C445.5 533.5 445.5 543.9 439.4 545.5M454.6 526.8V531.9M454.6 531.9C460.7 533.5 460.7 543.9 454.6 545.5M308 545.5H425M308 550.6H425M287.2 545.5V550.6M287.2 550.6C293.3 552.2 293.3 562.6 287.2 564.2M302.4 545.5V550.6M302.4 550.6C308.5 552.2 308.5 562.6 302.4 564.2M317.6 545.5V550.6M317.6 550.6C323.7 552.2 323.7 562.6 317.6 564.2M332.8 545.5V550.6M332.8 550.6C338.9 552.2 338.9 562.6 332.8 564.2M348 545.5V550.6M348 550.6C354.2 552.2 354.2 562.6 348 564.2M363.3 545.5V550.6M363.3 550.6C369.4 552.2 369.4 562.6 363.3 564.2M378.5 545.5V550.6M378.5 550.6C384.6 552.2 384.6 562.6 378.5 564.2M393.7 545.5V550.6M393.7 550.6C399.8 552.2 399.8 562.6 393.7 564.2M408.9 545.5V550.6M408.9 550.6C415 552.2 415 562.6 408.9 564.2M424.1 545.5V550.6M424.1 550.6C430.3 552.2 430.3 562.6 424.1 564.2M439.4 545.5V550.6M439.4 550.6C445.5 552.2 445.5 562.6 439.4 564.2M454.6 545.5V550.6M454.6 550.6C460.7 552.2 460.7 562.6 454.6 564.2M308 564.2H425M308 569.4H425M287.2 564.2V569.4M287.2 569.4C293.3 571 293.3 581.4 287.2 583M302.4 564.2V569.4M302.4 569.4C308.5 571 308.5 581.4 302.4 583M317.6 564.2V569.4M317.6 569.4C323.7 571 323.7 581.4 317.6 583M332.8 564.2V569.4M332.8 569.4C338.9 571 338.9 581.4 332.8 583M348 564.2V569.4M348 569.4C354.2 571 354.2 581.4 348 583M363.3 564.2V569.4M363.3 569.4C369.4 571 369.4 581.4 363.3 583M378.5 564.2V569.4M378.5 569.4C384.6 571 384.6 581.4 378.5 583M393.7 564.2V569.4M393.7 569.4C399.8 571 399.8 581.4 393.7 583M408.9 564.2V569.4M408.9 569.4C415 571 415 581.4 408.9 583M424.1 564.2V569.4M424.1 569.4C430.3 571 430.3 581.4 424.1 583M439.4 564.2V569.4M439.4 569.4C445.5 571 445.5 581.4 439.4 583M454.6 564.2V569.4M454.6 569.4C460.7 571 460.7 581.4 454.6 583M308 583H425M308 588.1H425M287.2 583V588.1M287.2 588.1C293.3 589.7 293.3 600.1 287.2 601.8M302.4 583V588.1M302.4 588.1C308.5 589.7 308.5 600.1 302.4 601.8M317.6 583V588.1M317.6 588.1C323.7 589.7 323.7 600.1 317.6 601.8M332.8 583V588.1M332.8 588.1C338.9 589.7 338.9 600.1 332.8 601.8M348 583V588.1M348 588.1C354.2 589.7 354.2 600.1 348 601.8M363.3 583V588.1M363.3 588.1C369.4 589.7 369.4 600.1 363.3 601.8M378.5 583V588.1M378.5 588.1C384.6 589.7 384.6 600.1 378.5 601.8M393.7 583V588.1M393.7 588.1C399.8 589.7 399.8 600.1 393.7 601.8M408.9 583V588.1M408.9 588.1C415 589.7 415 600.1 408.9 601.8M424.1 583V588.1M424.1 588.1C430.3 589.7 430.3 600.1 424.1 601.8M439.4 583V588.1M439.4 588.1C445.5 589.7 445.5 600.1 439.4 601.8M454.6 583V588.1M454.6 588.1C460.7 589.7 460.7 600.1 454.6 601.8M308 601.8H425M308 606.9H425M287.2 601.8V606.9M287.2 606.9C293.3 608.5 293.3 618.9 287.2 620.5M302.4 601.8V606.9M302.4 606.9C308.5 608.5 308.5 618.9 302.4 620.5M317.6 601.8V606.9M317.6 606.9C323.7 608.5 323.7 618.9 317.6 620.5M332.8 601.8V606.9M332.8 606.9C338.9 608.5 338.9 618.9 332.8 620.5M348 601.8V606.9M348 606.9C354.2 608.5 354.2 618.9 348 620.5M363.3 601.8V606.9M363.3 606.9C369.4 608.5 369.4 618.9 363.3 620.5M378.5 601.8V606.9M378.5 606.9C384.6 608.5 384.6 618.9 378.5 620.5M393.7 601.8V606.9M393.7 606.9C399.8 608.5 399.8 618.9 393.7 620.5M408.9 601.8V606.9M408.9 606.9C415 608.5 415 618.9 408.9 620.5M424.1 601.8V606.9M424.1 606.9C430.3 608.5 430.3 618.9 424.1 620.5M439.4 601.8V606.9M439.4 606.9C445.5 608.5 445.5 618.9 439.4 620.5M454.6 601.8V606.9M454.6 606.9C460.7 608.5 460.7 618.9 454.6 620.5"/></g>
<path class="e" d="M461.75 98.7 H645.4 V563.5 H193"/>
<path class="e" d="M643.6 98.7 V563.5" style="stroke-width:0.7"/>
<path class="e" d="M246.7 506H423V563.6M309.3 506V563.6"/>
<polygon points="461.8,301 473.5,301 473.5,391.8 461.8,380.2" fill="#e6e6e6"/>
<polygon points="473.5,256.3 487.4,256.3 487.4,405.7 473.5,391.8" fill="#fbfbfb" stroke="#bdbdbd" stroke-width="0.8" stroke-dasharray="1 1"/>
<rect x="477.4" y="256.6" width="9.6" height="138" fill="#f1f1f1"/><path d="M487.4 256.7 V405.7" stroke="#444" stroke-width="1" fill="none"/>
<path d="M645.4 98.7L473 271.1" stroke="#222" stroke-width="1" fill="none"/>
<path d="M645.2 563.5L461.5 379.8" stroke="#222" stroke-width="1" fill="none"/>
<circle cx="87.5" cy="6" r="1.9" fill="#fff" stroke="#555" stroke-width="0.8"/>
<circle cx="87.5" cy="34.8" r="1.9" fill="#fff" stroke="#555" stroke-width="0.8"/>
<circle cx="436.5" cy="34.8" r="1.9" fill="#fff" stroke="#555" stroke-width="0.8"/>
<circle cx="606.5" cy="109" r="1.9" fill="#fff" stroke="#555" stroke-width="0.8"/>
<circle cx="634" cy="524" r="1.9" fill="#fff" stroke="#555" stroke-width="0.8"/>
<circle cx="194.5" cy="558.5" r="1.9" fill="#fff" stroke="#555" stroke-width="0.8"/>
<path d="M273.6 51V81.5" stroke="#999" stroke-width="1" fill="none"/><polygon points="273.65,37.2 269.7,51 277.9,51" fill="#111"/>
<path d="M524.1 158.5V190" stroke="#999" stroke-width="1" fill="none"/><polygon points="524.1,145.1 520.2,158.9 528,158.9" fill="#111"/>
<path d="M533.5 346.5H565" stroke="#555" stroke-width="0.9" fill="none"/><polygon points="579,346.5 564.6,342.7 564.6,350.4" fill="#111"/>
<path d="M511.7 480.3V512" stroke="#555" stroke-width="0.9" fill="none"/><polygon points="511.7,525.6 507.7,511.8 515.9,511.8" fill="#111"/>
</g>
<g id="walls">
<polyline points="62.9,110 62.9,482.4 71.8,519 120.4,559.6 193,559.6" fill="none" stroke="#a8a8a8" stroke-width="1.7"/>
<polygon points="65.8,112 462,112 462,505 246.7,505.6 241.5,515.4 232,525 208.5,546.7 194.6,557 120.6,557 109.8,546.2 86.6,526.6 73.4,517.2 67,484 65.8,484" fill="#6c6c6c" stroke="#444" stroke-width="0.7"/>
<polygon points="71,117 456.8,117 456.8,500 243.5,500 239,512 229.5,521 205.5,543 193.8,551.3 122.8,551 112.8,542 89.6,521.5 78.2,511.5 72.6,483.4" fill="none" stroke="#2a2a2a" stroke-width="0.9"/>
<polygon points="76.3,122 451.3,122 451.3,494.6 239.8,494.6 236.3,508.5 226.7,517.2 202.4,538.9 192.8,545.9 124.6,545.9 115,538.9 92.4,517.2 82.4,506.9 76.9,482.6" fill="#5d5d5d" stroke="#161616" stroke-width="1.4"/>
<path d="M461 190.2H471.6V299.8H461Z" fill="#5e5e5e" stroke="#333" stroke-width="0.9"/>
<path d="M456.8 195H466.9V295H456.8" fill="#585858" stroke="#222" stroke-width="0.9"/>
<path d="M451.3 198.5H463.2V291.5H451.3Z" fill="#5d5d5d" stroke="#161616" stroke-width="1.2"/>
<polygon points="90.4,136.6 437,136.6 437,480.2 227.6,480.6 222.4,502.4 216.3,506.7 192.8,525.9 186.7,531.6 130.7,531.2 126.3,525.9 102,507.6 95.9,500.6 90.6,481.5" fill="#fff" stroke="#333" stroke-width="0.8"/>
<path d="M437 209H451.3V285H437Z" fill="#646464" stroke="#333" stroke-width="0.7"/>
<path d="M437.3 209L450 198.8V209ZM437.3 285L450 295.2V285Z" fill="#777" stroke="#222" stroke-width="0.7"/>
<path d="M449.6 180V193.5M449.6 300.5V318" stroke="#111" stroke-width="1.4" fill="none"/>
<rect x="446.8" y="211.5" width="5" height="5.4" rx="1" fill="#fff" stroke="#333" stroke-width="0.6"/>
<rect x="446.8" y="224.5" width="5" height="5.4" rx="1" fill="#fff" stroke="#333" stroke-width="0.6"/>
<rect x="446.8" y="236.5" width="5" height="5.4" rx="1" fill="#fff" stroke="#333" stroke-width="0.6"/>
<rect x="446.8" y="248" width="5" height="5.4" rx="1" fill="#fff" stroke="#333" stroke-width="0.6"/>
<rect x="446.8" y="258.5" width="5" height="5.4" rx="1" fill="#fff" stroke="#333" stroke-width="0.6"/>
<rect x="446.8" y="268" width="5" height="5.4" rx="1" fill="#fff" stroke="#333" stroke-width="0.6"/>
<rect x="446.8" y="277" width="5" height="5.4" rx="1" fill="#fff" stroke="#333" stroke-width="0.6"/>
<rect x="136.4" y="111.4" width="59.8" height="25.8" fill="#fff"/>
<path d="M137.4 118.8H195.2" stroke="#777" stroke-width="2.4" fill="none"/><path d="M138.2 118.8H194.4" stroke="#dcdcdc" stroke-width="1.1" fill="none"/>
<path d="M136.4 112V136.6M196.2 112V136.6" stroke="#2a2a2a" stroke-width="0.9" fill="none"/>
<path d="M136.4 136.6H196.2" stroke="#777" stroke-width="0.6" fill="none"/>
<rect x="323.5" y="111.4" width="60.4" height="25.8" fill="#fff"/>
<path d="M324.5 118.8H382.9" stroke="#777" stroke-width="2.4" fill="none"/><path d="M325.3 118.8H382.1" stroke="#dcdcdc" stroke-width="1.1" fill="none"/>
<path d="M323.5 112V136.6M383.9 112V136.6" stroke="#2a2a2a" stroke-width="0.9" fill="none"/>
<path d="M323.5 136.6H383.9" stroke="#777" stroke-width="0.6" fill="none"/>
<rect x="276.6" y="479.8" width="24.6" height="25.8" fill="#fff"/>
<path d="M277.6 498.6H300.2" stroke="#777" stroke-width="2.4" fill="none"/><path d="M278.4 498.6H299.4" stroke="#dcdcdc" stroke-width="1.1" fill="none"/>
<path d="M276.6 480.4V505M301.2 480.4V505" stroke="#2a2a2a" stroke-width="0.9" fill="none"/>
<path d="M276.6 480.4H301.2" stroke="#777" stroke-width="0.6" fill="none"/>
<rect x="345.5" y="479.8" width="60.8" height="25.8" fill="#fff"/>
<path d="M346.5 498.6H405.3" stroke="#777" stroke-width="2.4" fill="none"/><path d="M347.3 498.6H404.5" stroke="#dcdcdc" stroke-width="1.1" fill="none"/>
<path d="M345.5 480.4V505M406.3 480.4V505" stroke="#2a2a2a" stroke-width="0.9" fill="none"/>
<path d="M345.5 480.4H406.3" stroke="#777" stroke-width="0.6" fill="none"/>
<path d="M136 112.3H196M323.5 112.3H383.9M276.6 505H301.25M345.5 505H406.3" stroke="#aaa" stroke-width="0.8" fill="none"/>
<rect x="65.2" y="343" width="25.8" height="25.2" fill="#fff"/>
<path d="M72.3 344V367.2" stroke="#777" stroke-width="2.4" fill="none"/><path d="M72.3 344.8V366.4" stroke="#dcdcdc" stroke-width="1.1" fill="none"/>
<path d="M65.8 343H90.4M65.8 368.2H90.4" stroke="#2a2a2a" stroke-width="0.9" fill="none"/>
<path d="M90.4 343V368.2" stroke="#777" stroke-width="0.6" fill="none"/>
<rect x="436.4" y="323.5" width="26.2" height="24.8" fill="#fff"/>
<path d="M454.8 324.5V347.3" stroke="#777" stroke-width="2.4" fill="none"/><path d="M454.8 325.3V346.5" stroke="#dcdcdc" stroke-width="1.1" fill="none"/>
<path d="M437 323.5H462M437 348.3H462" stroke="#2a2a2a" stroke-width="0.9" fill="none"/>
<path d="M437 323.5V348.3" stroke="#777" stroke-width="0.6" fill="none"/>
<path d="M462 323.5V348.3M65.8 343V368.2" stroke="#aaa" stroke-width="0.8" fill="none"/>
<polygon points="102,507.6 126.3,525.9 110,546.4 86.2,526.4" fill="#fff" stroke="#333" stroke-width="0.7"/>
<path d="M102 507.6L86.2 526.4M126.3 525.9L110 546.4" stroke="#1e1e1e" stroke-width="1.1" fill="none"/>
<path d="M93 522.4L113.6 538.8" stroke="#6a6a6a" stroke-width="2.4" fill="none"/><path d="M93.6 522.9L113 538.3" stroke="#dcdcdc" stroke-width="1.1" fill="none"/>
<polygon points="192.8,525.9 216.3,506.7 232.6,525 208.5,547.2" fill="#fff" stroke="#333" stroke-width="0.7"/>
<path d="M192.8 525.9L208.5 547.2M216.3 506.7L232.6 525" stroke="#1e1e1e" stroke-width="1.1" fill="none"/>
<path d="M205.3 538.8L225.6 522.4" stroke="#6a6a6a" stroke-width="2.4" fill="none"/><path d="M205.9 538.3L225 522.9" stroke="#dcdcdc" stroke-width="1.1" fill="none"/>
<rect x="140.2" y="531" width="37.8" height="25.4" fill="#fff" stroke="#333" stroke-width="0.7"/>
<path d="M141.5 549.2H177" stroke="#6a6a6a" stroke-width="2.4" fill="none"/><path d="M142.2 549.2H176.3" stroke="#dcdcdc" stroke-width="1.1" fill="none"/>
</g>
<g id="iwalls">
<rect class="w" x="125" y="136.6" width="5" height="73.4"/>
<rect class="w" x="125" y="242.5" width="5" height="45.5"/>
<rect class="w" x="398.4" y="136.6" width="4.6" height="74.4"/>
<rect class="w" x="398.4" y="242.5" width="4.6" height="45.5"/>
<rect class="w" x="262" y="136.6" width="5.5" height="151.4"/>
<rect class="w" x="90.4" y="287.9" width="133.6" height="9.4"/>
<rect class="w" x="256.2" y="287.9" width="16.4" height="9.4"/>
<rect class="w" x="303.6" y="287.9" width="133.4" height="9.4"/>
<rect class="w" x="187.6" y="297" width="5.2" height="30.8"/>
<rect class="w" x="187.6" y="361.5" width="5.2" height="23"/>
<rect class="w" x="90.4" y="375" width="105.2" height="9.4"/>
<rect class="w" x="90.4" y="384" width="48.1" height="5.5"/>
<rect class="w" x="225.6" y="375" width="54.4" height="9.4"/>
<rect class="w" x="230.8" y="384.5" width="5" height="60.5"/>
<rect class="w" x="269.5" y="384.5" width="5" height="95.9"/>
<rect class="w" x="312.5" y="375.4" width="124.5" height="9.2"/>
<path d="M187.9 327.8V361.5" stroke="#222" stroke-width="1" fill="none"/>
</g>
<g id="furn">
<rect x="90.8" y="297.4" width="96.4" height="77.6" fill="#e0eed9"/>
<path d="M90.8 297.4H148.5C148.5 322 124 347.5 90.8 348.5Z" fill="#bbdea8" stroke="#86ad74" stroke-width="0.7"/>
<ellipse cx="119.8" cy="322.9" rx="31" ry="17.2" transform="rotate(-38 119.8 322.9)" fill="#c3e1b2" stroke="#6f9660" stroke-width="0.8"/>
<ellipse cx="120.6" cy="325.2" rx="27" ry="12" transform="rotate(-38 120.6 325.2)" fill="none" stroke="#7da06f" stroke-width="0.7"/>
<circle cx="121" cy="328" r="0.9" fill="#666"/>
<rect x="118.6" y="297.6" width="1.6" height="4" fill="#333"/>
<rect x="160" y="297.8" width="17.6" height="7.6" rx="1.5" fill="#bbdea8" stroke="#6f9660" stroke-width="0.8"/>
<path d="M161.8 305.4H175.8V312C175.8 318.5 172.8 322.6 168.8 322.6C164.8 322.6 161.8 318.5 161.8 312Z" fill="#bbdea8" stroke="#6f9660" stroke-width="0.8"/>
<rect x="166.3" y="299.8" width="5" height="1.6" fill="#6f9660"/>
<circle cx="185" cy="300.6" r="1.9" fill="#fff" stroke="#222" stroke-width="0.8"/>
<path d="M150 375V368.5C150 362.5 155 358 161.9 358C168.8 358 173.8 362.5 173.8 368.5V375Z" fill="#bbdea8" stroke="#6f9660" stroke-width="0.8"/>
<ellipse cx="161.9" cy="367" rx="9" ry="5.2" fill="#c8e4b8" stroke="#6f9660" stroke-width="0.7"/>
<path d="M161.9 366V370.5" stroke="#333" stroke-width="1"/>
<rect x="92.5" y="380" width="4.4" height="3.6" rx="0.8" fill="#fff"/>
<rect x="100.5" y="380" width="4.4" height="3.6" rx="0.8" fill="#fff"/>
<rect x="107.5" y="380" width="4.4" height="3.6" rx="0.8" fill="#fff"/>
<rect x="116" y="380" width="8" height="3.6" rx="0.8" fill="#fff"/>
<rect x="129" y="380" width="4.4" height="3.6" rx="0.8" fill="#fff"/>
<rect x="101.6" y="376" width="2.6" height="3" fill="#ddd"/>
<rect x="138.8" y="382" width="16.5" height="2" fill="#111"/>
<rect x="138.5" y="384.4" width="49.7" height="5" fill="#fff"/>
<rect class="g" x="132.5" y="249.5" width="80" height="38"/>
<path d="M132.5 282.1H212.5" stroke="#86ad74" stroke-width="0.7" fill="none"/>
<path d="M138.5 249.5V287.5M206.5 249.5V287.5M172.5 249.5V282.1" stroke="#6f9660" stroke-width="0.8" fill="none"/>
<rect class="g" x="318" y="253.5" width="79.8" height="34"/>
<path d="M318 282.1H397.8" stroke="#86ad74" stroke-width="0.7" fill="none"/>
<path d="M324 253.5V287.5M391.8 253.5V287.5M357.9 253.5V282.1" stroke="#6f9660" stroke-width="0.8" fill="none"/>
<rect class="g" x="357.5" y="384.5" width="79.1" height="34.3"/>
<path d="M357.5 389.9H436.6" stroke="#86ad74" stroke-width="0.7" fill="none"/>
<path d="M363.5 384.5V418.8M430.6 384.5V418.8M397.1 389.9V418.8" stroke="#6f9660" stroke-width="0.8" fill="none"/>
<path class="g" d="M130.4 137.2H186V159.2H148V181.8H130.4Z"/>
<path class="gd" d="M340.8 137.2H397.8V170.8H379.5V159.4H340.8Z"/>
<path class="gd" d="M380 457.6H417.6V447H436.6V479.8H380Z"/>
<circle cx="163" cy="168.9" r="10.8" fill="#f3f3ee" stroke="#e3e3de" stroke-width="0.8"/>
<circle cx="163" cy="168.9" r="8.9" fill="#bbdea8"/>
<circle cx="365" cy="169.5" r="10.8" fill="#f3f3ee" stroke="#e3e3de" stroke-width="0.8"/>
<circle cx="365" cy="169.5" r="8.9" fill="#bbdea8"/>
<circle cx="403.9" cy="446.4" r="10.8" fill="#f3f3ee" stroke="#e3e3de" stroke-width="0.8"/>
<circle cx="403.9" cy="446.4" r="8.9" fill="#bbdea8"/>
<rect x="160" y="144.4" width="12.4" height="1.4" fill="#999"/>
<rect x="161.5" y="146.2" width="9.4" height="3.6" fill="#444"/>
<rect x="163.7" y="151.8" width="5" height="0.9" fill="#9a9a9a"/>
<rect x="355.5" y="143.8" width="12.4" height="1.4" fill="#999"/>
<rect x="357" y="145.6" width="9.4" height="3.6" fill="#444"/>
<rect x="359.2" y="151.2" width="5" height="0.9" fill="#9a9a9a"/>
<rect x="393.8" y="464.6" width="12.4" height="1.4" fill="#999"/>
<rect x="395.3" y="466.4" width="9.4" height="3.6" fill="#444"/>
<rect x="397.5" y="472" width="5" height="0.9" fill="#9a9a9a"/>
<circle cx="136" cy="147.5" r="3.5" fill="#cfe7c0" stroke="#111" stroke-width="1.4"/>
<circle cx="151.8" cy="154.2" r="3.5" fill="#cfe7c0" stroke="#111" stroke-width="1.4"/>
<path d="M136 147.5L151.8 154.2" stroke="#111" stroke-width="1.7"/>
<circle cx="136" cy="147.5" r="1.5" fill="#111"/><circle cx="151.8" cy="154.2" r="1.2" fill="#111"/>
<circle cx="391.2" cy="147.5" r="3.5" fill="#cfe7c0" stroke="#111" stroke-width="1.4"/>
<circle cx="375.8" cy="154.2" r="3.5" fill="#cfe7c0" stroke="#111" stroke-width="1.4"/>
<path d="M391.2 147.5L375.8 154.2" stroke="#111" stroke-width="1.7"/>
<circle cx="391.2" cy="147.5" r="1.5" fill="#111"/><circle cx="375.8" cy="154.2" r="1.2" fill="#111"/>
<circle cx="413.9" cy="460.6" r="3.5" fill="#cfe7c0" stroke="#111" stroke-width="1.4"/>
<circle cx="429.6" cy="467.7" r="3.5" fill="#cfe7c0" stroke="#111" stroke-width="1.4"/>
<path d="M413.9 460.6L429.6 467.7" stroke="#111" stroke-width="1.7"/>
<circle cx="413.9" cy="460.6" r="1.5" fill="#111"/><circle cx="429.6" cy="467.7" r="1.2" fill="#111"/>
<rect x="91.2" y="390" width="19.6" height="11.4" class="g"/>
<rect x="171.2" y="390" width="17.2" height="11.4" class="g"/>
<rect x="110.8" y="390" width="60.5" height="76.2" fill="#bbdea8" stroke="#1c1c1c" stroke-width="1.7"/>
<rect x="112.6" y="392.4" width="25.4" height="14" fill="#c3e1b2" stroke="#222" stroke-width="1.2"/>
<rect x="143" y="392.4" width="25.8" height="14" fill="#c3e1b2" stroke="#222" stroke-width="1.2"/>
<path d="M110.8 414.5H117.5V406.4H164.5V414.5H171.3" fill="none" stroke="#222" stroke-width="1.1"/>
<path d="M110.8 414.5L117.5 406.4V414.5ZM171.3 414.5L164.5 406.4V414.5Z" fill="#fff" stroke="#222" stroke-width="0.8"/>
<circle cx="96.3" cy="395.5" r="3.1" fill="#cfe7c0" stroke="#111" stroke-width="1.4"/>
<path d="M96.3 395.5L98.8 402.8" stroke="#111" stroke-width="1.3"/>
<circle cx="98.8" cy="402.8" r="1.2" fill="#111"/>
<circle cx="182.6" cy="395.5" r="3.1" fill="#cfe7c0" stroke="#111" stroke-width="1.4"/>
<path d="M182.6 395.5L180 402.8" stroke="#111" stroke-width="1.3"/>
<circle cx="180" cy="402.8" r="1.2" fill="#111"/>
</g>
<g id="doors">
<path class="dr" d="M127.5 211L143.8 237.5"/><path class="dr2" d="M127.5 211L143.8 237.5"/>
<path class="dr" d="M399.3 211.5L384.5 238.5"/><path class="dr2" d="M399.3 211.5L384.5 238.5"/>
<path class="dr" d="M255.5 288L228.8 273"/><path class="dr2" d="M255.5 288L228.8 273"/>
<path class="dr" d="M274.3 288L300 273"/><path class="dr2" d="M274.3 288L300 273"/>
<path class="dr" d="M191.2 328.5L206.2 356"/><path class="dr2" d="M191.2 328.5L206.2 356"/>
<path class="dr" d="M225.8 384L199.5 398.8"/><path class="dr2" d="M225.8 384L199.5 398.8"/>
<path class="dr" d="M280 384L307.5 398.8"/><path class="dr2" d="M280 384L307.5 398.8"/>
<path class="dr" d="M232.5 476.5L216.8 450"/><path class="dr2" d="M232.5 476.5L216.8 450"/>
<rect x="231.8" y="476" width="3.4" height="4" fill="#444"/>
</g>
<g id="stairs">
<path class="st" d="M333.8 297.3V333.2M333.8 338.6V375.5M345 297.3V333.2M345 338.6V375.5M355.6 297.3V333.2M355.6 338.6V375.5M366.3 297.3V333.2M366.3 338.6V375.5M377 297.3V333.2M377 338.6V375.5M387.6 297.3V333.2M387.6 338.6V375.5M398.3 297.3V315M398.3 356.8V375.5M333.75 315H398.3M333.75 333.2H398.3C402 333.2 402 338.6 398.3 338.6H333.75M333.75 356.8H398.3M398.3 315C426.5 315 426.5 356.8 398.3 356.8M401.2 335L419.5 297M401.2 335L436.8 315M401.2 335H436.8M401.2 335L436.8 357.5M401.2 335L417.5 375M372.5 338.8L390.7 375M378 338.8L395.2 375M341.5 308L334.6 315L341.5 322.5M374.5 349.8L381.6 356.8L374.5 363.5"/>
<path d="M331.5 335.5V373" stroke="#777" stroke-width="0.8"/>
<circle cx="331.5" cy="352.5" r="1.2" fill="#fff" stroke="#555" stroke-width="0.6"/><circle cx="331.5" cy="372" r="1.2" fill="#fff" stroke="#555" stroke-width="0.6"/>
<circle cx="334.2" cy="357" r="3.3" fill="#6a6a6a" stroke="#333" stroke-width="0.7"/>
<path d="M338.5 354.8H378" stroke="#8a8a8a" stroke-width="2" stroke-dasharray="1.6 0.9"/>
</g>
<g id="labels" opacity="0.99">
<text class="lb" transform="translate(193.3 207.9) scale(-0.88 1)">13,93 м2</text>
<text class="lb" transform="translate(108.1 214.1) scale(-0.88 1)">3,58</text>
<text class="lb" transform="translate(107.8 235.7) scale(-0.88 1)">м2</text>
<text class="lb" transform="translate(326.3 209.1) scale(-0.88 1)">13,77 м2</text>
<text class="lb" transform="translate(417.8 237.5) scale(-0.88 1)">3,58</text>
<text class="lb" transform="translate(418.2 257.9) scale(-0.88 1)">м2</text>
<text class="lb" transform="translate(154.6 350.7) scale(-0.88 1)">5,23 м2</text>
<text class="lb" transform="translate(264 338.5) scale(-0.88 1)">7,69 м2</text>
<text class="lb" transform="translate(253.4 431.3) scale(-0.88 1)">2,27</text>
<text class="lb" transform="translate(253.2 452.3) scale(-0.88 1)">м2</text>
<text class="lb" transform="translate(327.5 450.5) scale(-0.88 1)">10,78 м2</text>
<text class="lb" transform="translate(157.3 492.1) scale(-0.88 1)">13,06 м2</text>
</g>
</svg>
</body></html>
